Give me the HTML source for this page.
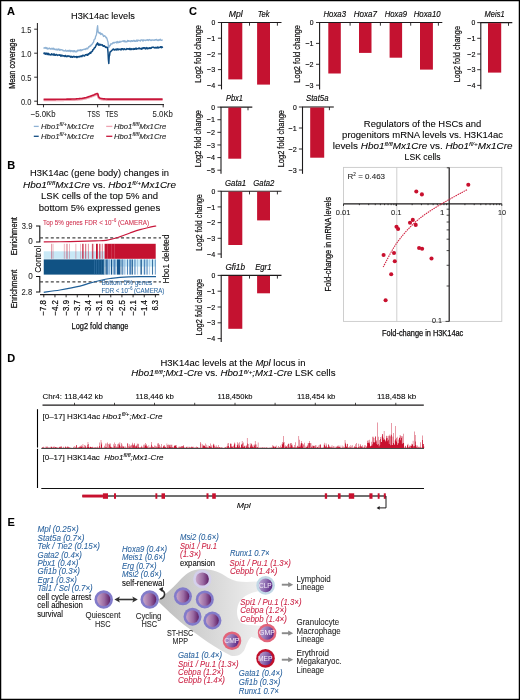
<!DOCTYPE html>
<html><head><meta charset="utf-8"><style>
html,body{margin:0;padding:0;background:#fff;}
body{width:520px;height:700px;overflow:hidden;}
svg{display:block;font-family:"Liberation Sans", sans-serif;will-change:transform;}
</style></head><body>
<svg width="520" height="700" viewBox="0 0 520 700" font-family='"Liberation Sans", sans-serif'>
<defs><linearGradient id="g1" x1="0" y1="0" x2="1" y2="0"><stop offset="0" stop-color="#c8a6c8"/><stop offset="0.55" stop-color="#9a6aa2"/><stop offset="1" stop-color="#5e1e66"/></linearGradient><linearGradient id="g2" x1="0" y1="0" x2="1" y2="0.3"><stop offset="0" stop-color="#c0aad8"/><stop offset="0.5" stop-color="#9476b6"/><stop offset="1" stop-color="#62308a"/></linearGradient><linearGradient id="gg" x1="0" y1="0" x2="1" y2="0"><stop offset="0" stop-color="#bdbdbd"/><stop offset="0.4" stop-color="#d2d2d2"/><stop offset="1" stop-color="#f0f0f0"/></linearGradient></defs>
<rect x="0" y="0" width="520" height="700" fill="#fff"/>
<text x="7.00" y="15.30" font-size="11" font-weight="bold" stroke="#1c1a1b" stroke-width="0.1">A</text>
<text x="71.00" y="19.30" font-size="9.02" textLength="63.80" lengthAdjust="spacingAndGlyphs" stroke="#1c1a1b" stroke-width="0.08">H3K14ac levels</text>
<line x1="37.40" y1="23.00" x2="37.40" y2="104.60" stroke="#1c1a1b" stroke-width="1.0" />
<line x1="36.90" y1="104.60" x2="164.00" y2="104.60" stroke="#1c1a1b" stroke-width="1.0" />
<line x1="34.20" y1="29.20" x2="37.40" y2="29.20" stroke="#1c1a1b" stroke-width="0.9" />
<text x="31.30" y="32.90" font-size="8.36" fill="#262626" text-anchor="end" textLength="10.40" lengthAdjust="spacingAndGlyphs" stroke="#262626" stroke-width="0.08">1.5</text>
<line x1="34.20" y1="53.20" x2="37.40" y2="53.20" stroke="#1c1a1b" stroke-width="0.9" />
<text x="31.30" y="56.90" font-size="8.36" fill="#262626" text-anchor="end" textLength="10.40" lengthAdjust="spacingAndGlyphs" stroke="#262626" stroke-width="0.08">1.0</text>
<line x1="34.20" y1="77.20" x2="37.40" y2="77.20" stroke="#1c1a1b" stroke-width="0.9" />
<text x="31.30" y="80.90" font-size="8.36" fill="#262626" text-anchor="end" textLength="10.40" lengthAdjust="spacingAndGlyphs" stroke="#262626" stroke-width="0.08">0.5</text>
<line x1="34.20" y1="101.20" x2="37.40" y2="101.20" stroke="#1c1a1b" stroke-width="0.9" />
<text x="31.30" y="104.90" font-size="8.36" fill="#262626" text-anchor="end" textLength="10.40" lengthAdjust="spacingAndGlyphs" stroke="#262626" stroke-width="0.08">0.0</text>
<line x1="43.50" y1="104.60" x2="43.50" y2="107.30" stroke="#1c1a1b" stroke-width="0.9" />
<line x1="97.60" y1="104.60" x2="97.60" y2="107.30" stroke="#1c1a1b" stroke-width="0.9" />
<line x1="108.90" y1="104.60" x2="108.90" y2="107.30" stroke="#1c1a1b" stroke-width="0.9" />
<line x1="163.20" y1="104.60" x2="163.20" y2="107.30" stroke="#1c1a1b" stroke-width="0.9" />
<text x="30.70" y="116.60" font-size="8.36" fill="#262626" textLength="24.80" lengthAdjust="spacingAndGlyphs" stroke="#262626" stroke-width="0.08">−5.0Kb</text>
<text x="87.50" y="116.60" font-size="8.36" fill="#262626" textLength="12.50" lengthAdjust="spacingAndGlyphs" stroke="#262626" stroke-width="0.08">TSS</text>
<text x="105.40" y="116.60" font-size="8.36" fill="#262626" textLength="12.60" lengthAdjust="spacingAndGlyphs" stroke="#262626" stroke-width="0.08">TES</text>
<text x="152.60" y="116.60" font-size="8.36" fill="#262626" textLength="20.30" lengthAdjust="spacingAndGlyphs" stroke="#262626" stroke-width="0.08">5.0Kb</text>
<text x="14.80" y="63.70" font-size="8.36" text-anchor="middle" textLength="50.30" lengthAdjust="spacingAndGlyphs" transform="rotate(-90 14.80 63.70)" stroke="#1c1a1b" stroke-width="0.25">Mean coverage</text>
<path d="M43.60,47.53 L44.00,48.00 L44.40,47.80 L44.80,48.17 L45.20,48.24 L45.60,47.49 L46.00,47.46 L46.40,48.66 L46.80,47.89 L47.20,47.89 L47.60,49.00 L48.00,48.30 L48.40,48.86 L48.80,48.39 L49.20,48.66 L49.60,48.02 L50.00,48.74 L50.40,49.10 L50.80,48.66 L51.20,49.01 L51.60,48.95 L52.00,48.14 L52.40,49.15 L52.80,48.96 L53.20,48.59 L53.60,48.26 L54.00,49.48 L54.40,48.98 L54.80,49.37 L55.20,49.65 L55.60,49.47 L56.00,49.81 L56.40,49.13 L56.80,49.75 L57.20,49.30 L57.60,50.04 L58.00,50.01 L58.40,48.97 L58.80,49.07 L59.20,49.24 L59.60,50.34 L60.00,49.65 L60.40,49.96 L60.80,49.56 L61.20,49.90 L61.60,49.78 L62.00,49.78 L62.40,50.16 L62.80,50.21 L63.20,50.71 L63.60,50.45 L64.00,50.85 L64.40,50.80 L64.80,51.04 L65.20,50.64 L65.60,49.98 L66.00,51.01 L66.40,51.21 L66.80,51.18 L67.20,50.76 L67.60,51.01 L68.00,50.34 L68.40,51.25 L68.80,50.92 L69.20,50.55 L69.60,50.28 L70.00,51.42 L70.40,51.65 L70.80,50.42 L71.20,51.45 L71.60,50.94 L72.00,50.61 L72.40,50.85 L72.80,51.55 L73.20,51.73 L73.60,50.61 L74.00,51.44 L74.40,50.68 L74.80,51.66 L75.20,51.15 L75.60,51.87 L76.00,51.92 L76.40,51.17 L76.80,51.78 L77.20,50.73 L77.60,50.32 L78.00,50.97 L78.40,50.08 L78.80,50.23 L79.20,50.44 L79.60,50.64 L80.00,49.92 L80.40,49.65 L80.80,50.69 L81.20,49.80 L81.60,50.59 L82.00,50.40 L82.40,49.56 L82.80,49.56 L83.20,49.53 L83.60,49.59 L84.00,49.41 L84.40,49.25 L84.80,49.22 L85.20,49.56 L85.60,48.84 L86.00,48.62 L86.40,48.92 L86.80,48.13 L87.20,48.11 L87.60,48.89 L88.00,47.93 L88.40,47.65 L88.80,46.58 L89.20,46.82 L89.60,46.73 L90.00,45.63 L90.40,46.14 L90.80,45.85 L91.20,44.62 L91.60,44.90 L92.00,44.15 L92.40,43.93 L92.80,42.95 L93.20,42.75 L93.60,41.91 L94.00,40.03 L94.40,39.20 L94.80,39.19 L95.20,38.59 L95.60,36.46 L96.00,35.63 L96.40,34.69 L96.80,31.89 L97.20,28.24 L97.60,25.74 L98.00,30.82 L98.40,32.60 L98.80,32.89 L99.20,32.94 L99.60,33.44 L100.00,32.34 L100.40,33.70 L100.80,34.53 L101.20,34.05 L101.60,33.57 L102.00,34.03 L102.40,33.99 L102.80,34.68 L103.20,35.63 L103.60,36.44 L104.00,36.04 L104.40,36.03 L104.80,35.73 L105.20,36.55 L105.60,36.55 L106.00,37.70 L106.40,37.39 L106.80,38.29 L107.20,39.38 L107.60,40.87 L108.00,41.93 L108.40,45.95 L108.80,47.41 L109.20,46.87 L109.60,45.43 L110.00,45.76 L110.40,45.27 L110.80,43.82 L111.20,43.59 L111.60,44.13 L112.00,43.70 L112.40,43.73 L112.80,42.88 L113.20,42.44 L113.60,42.59 L114.00,43.21 L114.40,42.40 L114.80,42.42 L115.20,42.44 L115.60,42.37 L116.00,42.27 L116.40,42.91 L116.80,41.76 L117.20,41.47 L117.60,42.70 L118.00,42.53 L118.40,42.60 L118.80,41.75 L119.20,42.39 L119.60,42.28 L120.00,41.21 L120.40,41.92 L120.80,42.02 L121.20,41.76 L121.60,41.53 L122.00,41.18 L122.40,41.23 L122.80,41.05 L123.20,40.80 L123.60,41.51 L124.00,41.06 L124.40,41.77 L124.80,40.68 L125.20,41.85 L125.60,41.54 L126.00,41.83 L126.40,41.77 L126.80,41.75 L127.20,41.28 L127.60,40.46 L128.00,41.46 L128.40,40.64 L128.80,40.79 L129.20,41.28 L129.60,41.06 L130.00,40.88 L130.40,41.60 L130.80,41.13 L131.20,40.73 L131.60,40.59 L132.00,41.43 L132.40,40.87 L132.80,41.28 L133.20,40.66 L133.60,40.43 L134.00,40.89 L134.40,41.27 L134.80,40.35 L135.20,41.20 L135.60,41.37 L136.00,41.19 L136.40,41.20 L136.80,40.04 L137.20,40.89 L137.60,41.20 L138.00,40.05 L138.40,40.34 L138.80,40.32 L139.20,40.67 L139.60,40.51 L140.00,40.56 L140.40,40.97 L140.80,39.86 L141.20,39.92 L141.60,40.00 L142.00,39.97 L142.40,39.88 L142.80,41.12 L143.20,40.94 L143.60,39.84 L144.00,40.40 L144.40,40.12 L144.80,40.10 L145.20,40.13 L145.60,40.53 L146.00,40.42 L146.40,40.09 L146.80,39.83 L147.20,40.00 L147.60,39.69 L148.00,40.28 L148.40,40.48 L148.80,39.99 L149.20,39.55 L149.60,39.67 L150.00,39.92 L150.40,40.24 L150.80,40.48 L151.20,39.90 L151.60,40.48 L152.00,40.23 L152.40,39.95 L152.80,39.86 L153.20,40.02 L153.60,40.30 L154.00,39.90 L154.40,40.27 L154.80,39.93 L155.20,39.62 L155.60,40.02 L156.00,40.23 L156.40,39.35 L156.80,39.84 L157.20,39.83 L157.60,40.46 L158.00,40.53 L158.40,39.73 L158.80,40.45 L159.20,40.29 L159.60,39.55 L160.00,39.82 L160.40,39.33 L160.80,40.29 L161.20,40.07 L161.60,40.37 L162.00,40.23 L162.40,40.05 L162.80,40.13" stroke="#8fb2d4" stroke-width="1.35" fill="none" stroke-linejoin="round"/>
<path d="M43.60,53.69 L44.00,53.08 L44.40,53.80 L44.80,53.03 L45.20,53.26 L45.60,54.19 L46.00,53.20 L46.40,53.31 L46.80,53.36 L47.20,54.50 L47.60,53.55 L48.00,53.38 L48.40,54.56 L48.80,53.60 L49.20,54.65 L49.60,54.45 L50.00,54.72 L50.40,54.92 L50.80,54.44 L51.20,54.79 L51.60,53.76 L52.00,54.82 L52.40,54.50 L52.80,54.83 L53.20,54.02 L53.60,54.96 L54.00,55.27 L54.40,54.09 L54.80,54.50 L55.20,54.88 L55.60,55.30 L56.00,54.52 L56.40,54.48 L56.80,54.63 L57.20,55.19 L57.60,55.42 L58.00,54.97 L58.40,54.97 L58.80,55.06 L59.20,55.04 L59.60,55.18 L60.00,54.76 L60.40,55.39 L60.80,56.10 L61.20,55.36 L61.60,55.87 L62.00,55.10 L62.40,55.88 L62.80,56.02 L63.20,55.95 L63.60,55.78 L64.00,55.78 L64.40,56.05 L64.80,56.45 L65.20,55.45 L65.60,55.42 L66.00,56.38 L66.40,56.66 L66.80,56.14 L67.20,56.09 L67.60,56.52 L68.00,55.82 L68.40,55.99 L68.80,55.95 L69.20,56.54 L69.60,56.21 L70.00,56.15 L70.40,56.84 L70.80,57.26 L71.20,56.39 L71.60,57.01 L72.00,56.66 L72.40,57.32 L72.80,57.00 L73.20,56.60 L73.60,56.59 L74.00,56.37 L74.40,57.06 L74.80,56.97 L75.20,56.73 L75.60,56.95 L76.00,56.82 L76.40,57.37 L76.80,56.41 L77.20,57.52 L77.60,56.73 L78.00,56.82 L78.40,56.56 L78.80,57.00 L79.20,56.90 L79.60,56.46 L80.00,56.27 L80.40,56.52 L80.80,56.63 L81.20,55.90 L81.60,56.29 L82.00,56.52 L82.40,55.74 L82.80,55.32 L83.20,55.25 L83.60,55.84 L84.00,55.69 L84.40,56.00 L84.80,55.77 L85.20,54.83 L85.60,54.67 L86.00,54.68 L86.40,54.50 L86.80,55.14 L87.20,55.27 L87.60,55.20 L88.00,54.06 L88.40,54.67 L88.80,53.66 L89.20,53.57 L89.60,53.76 L90.00,52.62 L90.40,52.39 L90.80,53.19 L91.20,52.08 L91.60,51.71 L92.00,51.56 L92.40,51.24 L92.80,49.84 L93.20,49.76 L93.60,49.30 L94.00,48.76 L94.40,47.77 L94.80,47.68 L95.20,47.59 L95.60,46.17 L96.00,45.69 L96.40,44.40 L96.80,43.93 L97.20,43.78 L97.60,42.89 L98.00,44.45 L98.40,44.95 L98.80,43.96 L99.20,45.16 L99.60,44.40 L100.00,44.98 L100.40,45.00 L100.80,44.39 L101.20,44.97 L101.60,44.98 L102.00,45.23 L102.40,44.73 L102.80,45.68 L103.20,46.23 L103.60,46.08 L104.00,46.15 L104.40,45.78 L104.80,46.53 L105.20,46.55 L105.60,47.29 L106.00,47.45 L106.40,47.39 L106.80,46.95 L107.20,47.70 L107.60,47.78 L108.00,52.08 L108.40,59.47 L108.80,63.46 L109.20,56.47 L109.60,55.35 L110.00,52.00 L110.40,51.73 L110.80,51.74 L111.20,51.04 L111.60,50.52 L112.00,50.41 L112.40,49.90 L112.80,49.46 L113.20,49.14 L113.60,48.98 L114.00,49.87 L114.40,49.92 L114.80,49.61 L115.20,49.87 L115.60,49.33 L116.00,49.19 L116.40,49.34 L116.80,50.01 L117.20,48.84 L117.60,49.48 L118.00,49.10 L118.40,49.82 L118.80,49.23 L119.20,49.19 L119.60,49.28 L120.00,49.46 L120.40,49.76 L120.80,49.16 L121.20,49.84 L121.60,48.79 L122.00,49.00 L122.40,48.74 L122.80,48.75 L123.20,49.66 L123.60,49.57 L124.00,48.80 L124.40,48.79 L124.80,49.09 L125.20,49.53 L125.60,49.62 L126.00,49.51 L126.40,49.27 L126.80,48.63 L127.20,48.97 L127.60,48.67 L128.00,49.12 L128.40,49.16 L128.80,48.63 L129.20,48.68 L129.60,49.41 L130.00,48.34 L130.40,49.41 L130.80,49.52 L131.20,49.58 L131.60,48.77 L132.00,48.99 L132.40,49.02 L132.80,49.08 L133.20,49.54 L133.60,49.12 L134.00,48.56 L134.40,49.33 L134.80,48.79 L135.20,48.93 L135.60,49.09 L136.00,48.06 L136.40,49.12 L136.80,48.95 L137.20,48.70 L137.60,48.73 L138.00,48.62 L138.40,48.23 L138.80,48.69 L139.20,47.98 L139.60,48.62 L140.00,48.80 L140.40,48.49 L140.80,48.64 L141.20,49.16 L141.60,49.04 L142.00,47.95 L142.40,48.84 L142.80,48.58 L143.20,47.75 L143.60,48.15 L144.00,47.95 L144.40,47.70 L144.80,48.32 L145.20,48.84 L145.60,47.96 L146.00,48.70 L146.40,48.42 L146.80,47.61 L147.20,48.60 L147.60,48.21 L148.00,48.64 L148.40,48.31 L148.80,48.32 L149.20,47.74 L149.60,48.36 L150.00,48.50 L150.40,48.39 L150.80,47.77 L151.20,48.20 L151.60,47.81 L152.00,47.26 L152.40,47.15 L152.80,47.18 L153.20,47.33 L153.60,47.26 L154.00,47.71 L154.40,47.98 L154.80,47.73 L155.20,47.55 L155.60,47.85 L156.00,47.35 L156.40,47.55 L156.80,47.95 L157.20,47.43 L157.60,47.10 L158.00,48.09 L158.40,47.82 L158.80,47.31 L159.20,47.29 L159.60,47.50 L160.00,47.57 L160.40,47.03 L160.80,46.71 L161.20,46.98 L161.60,47.76 L162.00,46.85 L162.40,47.27 L162.80,46.88" stroke="#0f4b82" stroke-width="1.5" fill="none" stroke-linejoin="round"/>
<path d="M43.60,100.30 L44.10,100.30 L44.60,100.29 L45.10,100.29 L45.60,100.29 L46.10,100.28 L46.60,100.28 L47.10,100.28 L47.60,100.28 L48.10,100.27 L48.60,100.27 L49.10,100.27 L49.60,100.26 L50.10,100.26 L50.60,100.26 L51.10,100.25 L51.60,100.25 L52.10,100.25 L52.60,100.25 L53.10,100.24 L53.60,100.24 L54.10,100.24 L54.60,100.23 L55.10,100.23 L55.60,100.23 L56.10,100.22 L56.60,100.22 L57.10,100.22 L57.60,100.21 L58.10,100.21 L58.60,100.21 L59.10,100.21 L59.60,100.20 L60.10,100.20 L60.60,100.19 L61.10,100.18 L61.60,100.17 L62.10,100.16 L62.60,100.15 L63.10,100.14 L63.60,100.13 L64.10,100.12 L64.60,100.11 L65.10,100.10 L65.60,100.09 L66.10,100.08 L66.60,100.07 L67.10,100.06 L67.60,100.05 L68.10,100.04 L68.60,100.03 L69.10,100.02 L69.60,100.01 L70.10,100.00 L70.60,99.99 L71.10,99.98 L71.60,99.97 L72.10,99.96 L72.60,99.95 L73.10,99.94 L73.60,99.93 L74.10,99.92 L74.60,99.91 L75.10,99.89 L75.60,99.85 L76.10,99.81 L76.60,99.76 L77.10,99.72 L77.60,99.68 L78.10,99.63 L78.60,99.59 L79.10,99.55 L79.60,99.51 L80.10,99.46 L80.60,99.42 L81.10,99.38 L81.60,99.33 L82.10,99.28 L82.60,99.18 L83.10,99.08 L83.60,98.98 L84.10,98.88 L84.60,98.78 L85.10,98.68 L85.60,98.58 L86.10,98.47 L86.60,98.31 L87.10,98.14 L87.60,97.98 L88.10,97.82 L88.60,97.66 L89.10,97.49 L89.60,97.33 L90.10,97.16 L90.60,96.98 L91.10,96.79 L91.60,96.60 L92.10,96.41 L92.60,96.23 L93.10,96.04 L93.60,95.85 L94.10,95.66 L94.60,95.44 L95.10,95.22 L95.60,95.00 L96.10,94.78 L96.60,94.56 L97.10,94.34 L97.60,94.43 L98.10,95.77 L98.60,97.90 L99.10,98.33 L99.60,98.76 L100.10,99.12 L100.60,99.22 L101.10,99.32 L101.60,99.42 L102.10,99.52 L102.60,99.62 L103.10,99.71 L103.60,99.74 L104.10,99.77 L104.60,99.80 L105.10,99.83 L105.60,99.86 L106.10,99.89 L106.60,99.92 L107.10,99.95 L107.60,99.98 L108.10,100.00 L108.60,100.00 L109.10,100.00 L109.60,100.00 L110.10,100.00 L110.60,100.00 L111.10,100.00 L111.60,100.00 L112.10,100.00 L112.60,100.00 L113.10,100.00 L113.60,100.00 L114.10,100.00 L114.60,100.00 L115.10,100.00 L115.60,100.00 L116.10,100.00 L116.60,100.00 L117.10,100.00 L117.60,100.00 L118.10,100.00 L118.60,100.00 L119.10,100.00 L119.60,100.00 L120.10,100.00 L120.60,100.00 L121.10,100.00 L121.60,100.00 L122.10,100.00 L122.60,100.00 L123.10,100.00 L123.60,100.00 L124.10,100.00 L124.60,100.00 L125.10,100.00 L125.60,100.00 L126.10,100.00 L126.60,100.00 L127.10,100.00 L127.60,100.00 L128.10,100.00 L128.60,100.00 L129.10,100.00 L129.60,100.00 L130.10,100.00 L130.60,100.00 L131.10,100.00 L131.60,100.00 L132.10,100.00 L132.60,100.00 L133.10,100.00 L133.60,100.00 L134.10,100.00 L134.60,100.00 L135.10,100.00 L135.60,100.00 L136.10,100.00 L136.60,100.00 L137.10,100.00 L137.60,100.00 L138.10,100.00 L138.60,100.00 L139.10,100.00 L139.60,100.00 L140.10,100.00 L140.60,100.00 L141.10,100.00 L141.60,100.00 L142.10,100.00 L142.60,100.00 L143.10,100.00 L143.60,100.00 L144.10,100.00 L144.60,100.00 L145.10,100.00 L145.60,100.00 L146.10,100.00 L146.60,100.00 L147.10,100.00 L147.60,100.00 L148.10,100.00 L148.60,100.00 L149.10,100.00 L149.60,100.00 L150.10,100.00 L150.60,100.00 L151.10,100.00 L151.60,100.00 L152.10,100.00 L152.60,100.00 L153.10,100.00 L153.60,100.00 L154.10,100.00 L154.60,100.00 L155.10,100.00 L155.60,100.00 L156.10,100.00 L156.60,100.00 L157.10,100.00 L157.60,100.00 L158.10,100.00 L158.60,100.00 L159.10,100.00 L159.60,100.00 L160.10,100.00 L160.60,100.00 L161.10,100.00 L161.60,100.00 L162.10,100.00 L162.60,100.00" stroke="#eea4b2" stroke-width="2.0" fill="none" stroke-linejoin="round"/>
<path d="M43.60,99.40 L44.10,99.40 L44.60,99.39 L45.10,99.39 L45.60,99.39 L46.10,99.38 L46.60,99.38 L47.10,99.38 L47.60,99.38 L48.10,99.37 L48.60,99.37 L49.10,99.37 L49.60,99.36 L50.10,99.36 L50.60,99.36 L51.10,99.35 L51.60,99.35 L52.10,99.35 L52.60,99.35 L53.10,99.34 L53.60,99.34 L54.10,99.34 L54.60,99.33 L55.10,99.33 L55.60,99.33 L56.10,99.32 L56.60,99.32 L57.10,99.32 L57.60,99.31 L58.10,99.31 L58.60,99.31 L59.10,99.31 L59.60,99.30 L60.10,99.30 L60.60,99.29 L61.10,99.28 L61.60,99.27 L62.10,99.26 L62.60,99.25 L63.10,99.24 L63.60,99.23 L64.10,99.22 L64.60,99.21 L65.10,99.20 L65.60,99.19 L66.10,99.18 L66.60,99.17 L67.10,99.16 L67.60,99.15 L68.10,99.14 L68.60,99.13 L69.10,99.12 L69.60,99.11 L70.10,99.10 L70.60,99.09 L71.10,99.08 L71.60,99.07 L72.10,99.06 L72.60,99.05 L73.10,99.04 L73.60,99.03 L74.10,99.02 L74.60,99.01 L75.10,98.99 L75.60,98.95 L76.10,98.91 L76.60,98.86 L77.10,98.82 L77.60,98.78 L78.10,98.73 L78.60,98.69 L79.10,98.65 L79.60,98.61 L80.10,98.56 L80.60,98.52 L81.10,98.48 L81.60,98.43 L82.10,98.38 L82.60,98.28 L83.10,98.18 L83.60,98.08 L84.10,97.98 L84.60,97.88 L85.10,97.78 L85.60,97.68 L86.10,97.57 L86.60,97.41 L87.10,97.24 L87.60,97.08 L88.10,96.92 L88.60,96.75 L89.10,96.59 L89.60,96.43 L90.10,96.26 L90.60,96.08 L91.10,95.89 L91.60,95.70 L92.10,95.51 L92.60,95.33 L93.10,95.14 L93.60,94.95 L94.10,94.76 L94.60,94.54 L95.10,94.32 L95.60,94.10 L96.10,93.88 L96.60,93.66 L97.10,93.44 L97.60,93.53 L98.10,94.87 L98.60,97.00 L99.10,97.43 L99.60,97.86 L100.10,98.22 L100.60,98.32 L101.10,98.42 L101.60,98.52 L102.10,98.62 L102.60,98.72 L103.10,98.81 L103.60,98.84 L104.10,98.87 L104.60,98.90 L105.10,98.93 L105.60,98.96 L106.10,98.99 L106.60,99.02 L107.10,99.05 L107.60,99.08 L108.10,99.10 L108.60,99.10 L109.10,99.10 L109.60,99.10 L110.10,99.10 L110.60,99.10 L111.10,99.10 L111.60,99.10 L112.10,99.10 L112.60,99.10 L113.10,99.10 L113.60,99.10 L114.10,99.10 L114.60,99.10 L115.10,99.10 L115.60,99.10 L116.10,99.10 L116.60,99.10 L117.10,99.10 L117.60,99.10 L118.10,99.10 L118.60,99.10 L119.10,99.10 L119.60,99.10 L120.10,99.10 L120.60,99.10 L121.10,99.10 L121.60,99.10 L122.10,99.10 L122.60,99.10 L123.10,99.10 L123.60,99.10 L124.10,99.10 L124.60,99.10 L125.10,99.10 L125.60,99.10 L126.10,99.10 L126.60,99.10 L127.10,99.10 L127.60,99.10 L128.10,99.10 L128.60,99.10 L129.10,99.10 L129.60,99.10 L130.10,99.10 L130.60,99.10 L131.10,99.10 L131.60,99.10 L132.10,99.10 L132.60,99.10 L133.10,99.10 L133.60,99.10 L134.10,99.10 L134.60,99.10 L135.10,99.10 L135.60,99.10 L136.10,99.10 L136.60,99.10 L137.10,99.10 L137.60,99.10 L138.10,99.10 L138.60,99.10 L139.10,99.10 L139.60,99.10 L140.10,99.10 L140.60,99.10 L141.10,99.10 L141.60,99.10 L142.10,99.10 L142.60,99.10 L143.10,99.10 L143.60,99.10 L144.10,99.10 L144.60,99.10 L145.10,99.10 L145.60,99.10 L146.10,99.10 L146.60,99.10 L147.10,99.10 L147.60,99.10 L148.10,99.10 L148.60,99.10 L149.10,99.10 L149.60,99.10 L150.10,99.10 L150.60,99.10 L151.10,99.10 L151.60,99.10 L152.10,99.10 L152.60,99.10 L153.10,99.10 L153.60,99.10 L154.10,99.10 L154.60,99.10 L155.10,99.10 L155.60,99.10 L156.10,99.10 L156.60,99.10 L157.10,99.10 L157.60,99.10 L158.10,99.10 L158.60,99.10 L159.10,99.10 L159.60,99.10 L160.10,99.10 L160.60,99.10 L161.10,99.10 L161.60,99.10 L162.10,99.10 L162.60,99.10" stroke="#c8163a" stroke-width="1.6" fill="none" stroke-linejoin="round"/>
<line x1="33.80" y1="126.40" x2="38.70" y2="126.40" stroke="#8fb2d4" stroke-width="1.3" />
<line x1="33.80" y1="136.30" x2="38.70" y2="136.30" stroke="#0f4b82" stroke-width="1.3" />
<line x1="106.20" y1="126.40" x2="112.30" y2="126.40" stroke="#eea4b2" stroke-width="1.3" />
<line x1="106.20" y1="136.30" x2="112.30" y2="136.30" stroke="#c8163a" stroke-width="1.3" />
<text x="41.00" y="128.80" font-size="7.92" fill="#2a2a2a" font-style="italic" textLength="53.00" lengthAdjust="spacingAndGlyphs" stroke="#2a2a2a" stroke-width="0.12">Hbo1<tspan dy="-2.5" font-size="5.6">fl/+</tspan><tspan dy="2.5">Mx1Cre</tspan></text>
<text x="41.00" y="138.60" font-size="7.92" fill="#2a2a2a" font-style="italic" textLength="53.00" lengthAdjust="spacingAndGlyphs" stroke="#2a2a2a" stroke-width="0.12">Hbo1<tspan dy="-2.5" font-size="5.6">fl/+</tspan><tspan dy="2.5">Mx1Cre</tspan></text>
<text x="114.00" y="128.80" font-size="7.92" fill="#2a2a2a" font-style="italic" textLength="52.30" lengthAdjust="spacingAndGlyphs" stroke="#2a2a2a" stroke-width="0.12">Hbo1<tspan dy="-2.5" font-size="5.6">fl/fl</tspan><tspan dy="2.5">Mx1Cre</tspan></text>
<text x="114.00" y="138.60" font-size="7.92" fill="#2a2a2a" font-style="italic" textLength="52.30" lengthAdjust="spacingAndGlyphs" stroke="#2a2a2a" stroke-width="0.12">Hbo1<tspan dy="-2.5" font-size="5.6">fl/fl</tspan><tspan dy="2.5">Mx1Cre</tspan></text>
<text x="7.20" y="169.30" font-size="11" font-weight="bold" stroke="#1c1a1b" stroke-width="0.1">B</text>
<text x="99.50" y="175.50" font-size="9.13" text-anchor="middle" textLength="139.00" lengthAdjust="spacingAndGlyphs" stroke="#1c1a1b" stroke-width="0.08">H3K14ac (gene body) changes in</text>
<text x="99.50" y="187.50" font-size="9.13" text-anchor="middle" textLength="153.00" lengthAdjust="spacingAndGlyphs" stroke="#1c1a1b" stroke-width="0.08"><tspan font-style="italic">Hbo1<tspan dy="-2.7" font-size="6.0">fl/fl</tspan><tspan dy="2.7">Mx1Cre</tspan></tspan> vs. <tspan font-style="italic">Hbo1<tspan dy="-2.7" font-size="6.0">fl/+</tspan><tspan dy="2.7">Mx1Cre</tspan></tspan></text>
<text x="99.50" y="198.80" font-size="9.13" text-anchor="middle" textLength="117.00" lengthAdjust="spacingAndGlyphs" stroke="#1c1a1b" stroke-width="0.08">LSK cells of the top 5% and</text>
<text x="99.50" y="210.50" font-size="9.13" text-anchor="middle" textLength="121.50" lengthAdjust="spacingAndGlyphs" stroke="#1c1a1b" stroke-width="0.08">bottom 5% expressed genes</text>
<text x="17.40" y="236.20" font-size="9.02" text-anchor="middle" textLength="38.30" lengthAdjust="spacingAndGlyphs" transform="rotate(-90 17.40 236.20)" stroke="#1c1a1b" stroke-width="0.25">Enrichment</text>
<text x="17.40" y="289.00" font-size="9.02" text-anchor="middle" textLength="38.60" lengthAdjust="spacingAndGlyphs" transform="rotate(-90 17.40 289.00)" stroke="#1c1a1b" stroke-width="0.25">Enrichment</text>
<text x="40.60" y="259.20" font-size="8.36" text-anchor="middle" textLength="26.90" lengthAdjust="spacingAndGlyphs" transform="rotate(-90 40.60 259.20)" stroke="#1c1a1b" stroke-width="0.08">Control</text>
<path d="M36,226 H39.8 V242 H36" stroke="#111" stroke-width="1.1" fill="none" />
<path d="M36,276.5 H39.8 V292 H36" stroke="#111" stroke-width="1.1" fill="none" />
<text x="32.40" y="228.70" font-size="8.14" fill="#262626" text-anchor="end" textLength="10.60" lengthAdjust="spacingAndGlyphs" stroke="#262626" stroke-width="0.08">3.9</text>
<text x="32.70" y="244.20" font-size="8.14" fill="#262626" text-anchor="end" stroke="#262626" stroke-width="0.08">0</text>
<text x="32.70" y="279.00" font-size="8.14" fill="#262626" text-anchor="end" stroke="#262626" stroke-width="0.08">0</text>
<text x="32.20" y="294.60" font-size="8.14" fill="#262626" text-anchor="end" textLength="10.60" lengthAdjust="spacingAndGlyphs" stroke="#262626" stroke-width="0.08">2.8</text>
<line x1="40.00" y1="237.90" x2="161.00" y2="237.90" stroke="#444" stroke-width="1.2" stroke-dasharray="3 2.4"/>
<line x1="40.00" y1="281.90" x2="161.00" y2="281.90" stroke="#444" stroke-width="1.2" stroke-dasharray="3 2.4"/>
<rect x="43.75" y="251.30" width="61.05" height="7.50" fill="#c8e8f6" />
<rect x="43.75" y="259.40" width="60.85" height="15.20" fill="#105284" />
<rect x="104.60" y="259.40" width="51.10" height="7.40" fill="#c6e6f6" />
<rect x="104.60" y="266.80" width="51.10" height="7.80" fill="#f4f9fc" />
<rect x="94.30" y="259.40" width="0.60" height="15.20" fill="#5a8fc2" opacity="0.55"/>
<rect x="96.20" y="259.40" width="0.60" height="15.20" fill="#5a8fc2" opacity="0.55"/>
<rect x="98.60" y="259.40" width="0.60" height="15.20" fill="#5a8fc2" opacity="0.55"/>
<rect x="100.90" y="259.40" width="0.60" height="15.20" fill="#5a8fc2" opacity="0.55"/>
<rect x="103.00" y="259.40" width="0.60" height="15.20" fill="#5a8fc2" opacity="0.55"/>
<rect x="104.60" y="259.40" width="0.30" height="15.20" fill="#8cb6da" />
<rect x="105.50" y="259.40" width="1.30" height="15.20" fill="#15548c" />
<rect x="107.00" y="259.40" width="1.00" height="15.20" fill="#4f86bb" />
<rect x="108.20" y="259.40" width="2.10" height="15.20" fill="#8cb6da" />
<rect x="111.00" y="259.40" width="1.20" height="15.20" fill="#15548c" />
<rect x="113.40" y="259.40" width="2.20" height="15.20" fill="#4f86bb" />
<rect x="116.80" y="259.40" width="3.60" height="15.20" fill="#15548c" />
<rect x="121.60" y="259.40" width="0.90" height="15.20" fill="#15548c" />
<rect x="122.50" y="259.40" width="0.80" height="15.20" fill="#4f86bb" />
<rect x="124.30" y="259.40" width="1.00" height="15.20" fill="#8cb6da" />
<rect x="127.00" y="259.40" width="1.00" height="15.20" fill="#4f86bb" />
<rect x="129.30" y="259.40" width="1.70" height="15.20" fill="#4f86bb" />
<rect x="131.60" y="259.40" width="1.20" height="15.20" fill="#15548c" />
<rect x="134.40" y="259.40" width="1.10" height="15.20" fill="#4f86bb" />
<rect x="137.20" y="259.40" width="0.70" height="15.20" fill="#8cb6da" />
<rect x="140.50" y="259.40" width="1.30" height="15.20" fill="#15548c" />
<rect x="143.80" y="259.40" width="1.40" height="15.20" fill="#4f86bb" />
<rect x="146.50" y="259.40" width="1.10" height="15.20" fill="#4f86bb" />
<rect x="149.40" y="259.40" width="0.60" height="15.20" fill="#8cb6da" />
<rect x="152.20" y="259.40" width="0.80" height="15.20" fill="#15548c" />
<rect x="154.90" y="259.40" width="0.80" height="15.20" fill="#4f86bb" />
<rect x="51.20" y="243.80" width="0.80" height="15.00" fill="#c41230" opacity="0.5"/>
<rect x="52.70" y="243.80" width="0.60" height="15.00" fill="#c41230" opacity="0.5"/>
<rect x="63.90" y="243.80" width="0.60" height="15.00" fill="#c41230" opacity="0.5"/>
<rect x="65.95" y="243.80" width="0.70" height="15.00" fill="#c41230" opacity="0.5"/>
<rect x="67.20" y="243.80" width="0.60" height="15.00" fill="#c41230" opacity="0.5"/>
<rect x="69.00" y="243.80" width="0.60" height="15.00" fill="#c41230" opacity="0.5"/>
<rect x="75.60" y="243.80" width="0.60" height="15.00" fill="#c41230" opacity="0.5"/>
<rect x="80.10" y="243.80" width="0.60" height="15.00" fill="#c41230" opacity="0.45"/>
<rect x="82.30" y="243.80" width="1.20" height="15.00" fill="#c41230" opacity="1"/>
<rect x="85.20" y="243.80" width="1.00" height="15.00" fill="#c41230" opacity="0.7"/>
<rect x="87.90" y="243.80" width="1.00" height="15.00" fill="#c41230" opacity="0.45"/>
<rect x="91.90" y="243.80" width="1.00" height="15.00" fill="#c41230" opacity="0.8"/>
<rect x="93.55" y="243.80" width="0.50" height="15.00" fill="#c41230" opacity="0.6"/>
<rect x="96.00" y="243.80" width="1.80" height="15.00" fill="#c41230" opacity="1"/>
<rect x="99.20" y="243.80" width="1.20" height="15.00" fill="#c41230" opacity="0.85"/>
<rect x="101.85" y="243.80" width="0.70" height="15.00" fill="#c41230" opacity="0.8"/>
<rect x="104.60" y="243.80" width="51.10" height="15.00" fill="#c41230" />
<rect x="107.10" y="243.80" width="0.45" height="15.00" fill="#ffffff" opacity="0.35"/>
<rect x="111.60" y="243.80" width="0.45" height="15.00" fill="#ffffff" opacity="0.35"/>
<rect x="114.40" y="243.80" width="0.45" height="15.00" fill="#ffffff" opacity="0.35"/>
<path d="M43.75,241.90 C48.12,241.85 61.46,241.77 70.00,241.60 C78.54,241.43 89.00,241.12 95.00,240.90 C101.00,240.68 102.33,240.82 106.00,240.30 C109.67,239.78 113.00,239.02 117.00,237.80 C121.00,236.58 126.17,234.37 130.00,233.00 C133.83,231.63 136.67,230.57 140.00,229.60 C143.33,228.63 147.30,227.80 150.00,227.20 C152.70,226.60 155.17,226.20 156.20,226.00" stroke="#c8163a" stroke-width="1.2" fill="none" />
<path d="M43.75,292.30 C46.46,291.92 53.96,291.02 60.00,290.00 C66.04,288.98 75.33,287.27 80.00,286.20 C84.67,285.13 84.67,284.55 88.00,283.60 C91.33,282.65 96.33,281.35 100.00,280.50 C103.67,279.65 106.67,279.03 110.00,278.50 C113.33,277.97 115.00,277.62 120.00,277.30 C125.00,276.98 134.00,276.70 140.00,276.60 C146.00,276.50 153.33,276.68 156.00,276.70" stroke="#1f5f98" stroke-width="1.2" fill="none" />
<text x="43.00" y="225.00" font-size="7.59" fill="#d0304e" textLength="106.00" lengthAdjust="spacingAndGlyphs" stroke="#d0304e" stroke-width="0.08">Top 5% genes FDR &lt; 10<tspan dy="-2.6" font-size="5.0">−6</tspan><tspan dy="2.6"> (CAMERA)</tspan></text>
<text x="101.50" y="284.60" font-size="7.59" fill="#2f6aa3" textLength="50.80" lengthAdjust="spacingAndGlyphs" stroke="#2f6aa3" stroke-width="0.08">Bottom 5% genes</text>
<text x="101.50" y="292.80" font-size="7.59" fill="#2f6aa3" textLength="62.80" lengthAdjust="spacingAndGlyphs" stroke="#2f6aa3" stroke-width="0.08">FDR &lt; 10<tspan dy="-2.6" font-size="5.0">−6</tspan><tspan dy="2.6"> (CAMERA)</tspan></text>
<text x="168.70" y="259.00" font-size="8.69" text-anchor="middle" textLength="49.00" lengthAdjust="spacingAndGlyphs" transform="rotate(-90 168.70 259.00)" stroke="#1c1a1b" stroke-width="0.08">Hbo1 deleted</text>
<line x1="40.00" y1="294.60" x2="159.30" y2="294.60" stroke="#1c1a1b" stroke-width="1.1" />
<line x1="43.80" y1="294.60" x2="43.80" y2="297.30" stroke="#1c1a1b" stroke-width="0.9" />
<text x="46.40" y="300.00" font-size="8.14" text-anchor="end" textLength="15.50" lengthAdjust="spacingAndGlyphs" transform="rotate(-90 46.40 300.00)" stroke="#1c1a1b" stroke-width="0.22">−7.8</text>
<line x1="54.96" y1="294.60" x2="54.96" y2="297.30" stroke="#1c1a1b" stroke-width="0.9" />
<text x="57.56" y="300.00" font-size="8.14" text-anchor="end" textLength="15.50" lengthAdjust="spacingAndGlyphs" transform="rotate(-90 57.56 300.00)" stroke="#1c1a1b" stroke-width="0.22">−4.2</text>
<line x1="66.12" y1="294.60" x2="66.12" y2="297.30" stroke="#1c1a1b" stroke-width="0.9" />
<text x="68.72" y="300.00" font-size="8.14" text-anchor="end" textLength="15.50" lengthAdjust="spacingAndGlyphs" transform="rotate(-90 68.72 300.00)" stroke="#1c1a1b" stroke-width="0.22">−3.9</text>
<line x1="77.28" y1="294.60" x2="77.28" y2="297.30" stroke="#1c1a1b" stroke-width="0.9" />
<text x="79.88" y="300.00" font-size="8.14" text-anchor="end" textLength="15.50" lengthAdjust="spacingAndGlyphs" transform="rotate(-90 79.88 300.00)" stroke="#1c1a1b" stroke-width="0.22">−3.7</text>
<line x1="88.44" y1="294.60" x2="88.44" y2="297.30" stroke="#1c1a1b" stroke-width="0.9" />
<text x="91.04" y="300.00" font-size="8.14" text-anchor="end" textLength="15.50" lengthAdjust="spacingAndGlyphs" transform="rotate(-90 91.04 300.00)" stroke="#1c1a1b" stroke-width="0.22">−3.4</text>
<line x1="99.60" y1="294.60" x2="99.60" y2="297.30" stroke="#1c1a1b" stroke-width="0.9" />
<text x="102.20" y="300.00" font-size="8.14" text-anchor="end" textLength="15.50" lengthAdjust="spacingAndGlyphs" transform="rotate(-90 102.20 300.00)" stroke="#1c1a1b" stroke-width="0.22">−3.1</text>
<line x1="110.76" y1="294.60" x2="110.76" y2="297.30" stroke="#1c1a1b" stroke-width="0.9" />
<text x="113.36" y="300.00" font-size="8.14" text-anchor="end" textLength="15.50" lengthAdjust="spacingAndGlyphs" transform="rotate(-90 113.36 300.00)" stroke="#1c1a1b" stroke-width="0.22">−2.8</text>
<line x1="121.92" y1="294.60" x2="121.92" y2="297.30" stroke="#1c1a1b" stroke-width="0.9" />
<text x="124.52" y="300.00" font-size="8.14" text-anchor="end" textLength="15.50" lengthAdjust="spacingAndGlyphs" transform="rotate(-90 124.52 300.00)" stroke="#1c1a1b" stroke-width="0.22">−2.5</text>
<line x1="133.08" y1="294.60" x2="133.08" y2="297.30" stroke="#1c1a1b" stroke-width="0.9" />
<text x="135.68" y="300.00" font-size="8.14" text-anchor="end" textLength="15.50" lengthAdjust="spacingAndGlyphs" transform="rotate(-90 135.68 300.00)" stroke="#1c1a1b" stroke-width="0.22">−2.1</text>
<line x1="144.24" y1="294.60" x2="144.24" y2="297.30" stroke="#1c1a1b" stroke-width="0.9" />
<text x="146.84" y="300.00" font-size="8.14" text-anchor="end" textLength="15.50" lengthAdjust="spacingAndGlyphs" transform="rotate(-90 146.84 300.00)" stroke="#1c1a1b" stroke-width="0.22">−1.4</text>
<line x1="155.40" y1="294.60" x2="155.40" y2="297.30" stroke="#1c1a1b" stroke-width="0.9" />
<text x="158.00" y="300.00" font-size="8.14" text-anchor="end" textLength="10.50" lengthAdjust="spacingAndGlyphs" transform="rotate(-90 158.00 300.00)" stroke="#1c1a1b" stroke-width="0.22">6.3</text>
<text x="100.00" y="329.00" font-size="9.46" text-anchor="middle" textLength="57.00" lengthAdjust="spacingAndGlyphs" stroke="#1c1a1b" stroke-width="0.25">Log2 fold change</text>
<text x="189.00" y="15.40" font-size="11" font-weight="bold" stroke="#1c1a1b" stroke-width="0.1">C</text>
<line x1="221.50" y1="22.50" x2="221.50" y2="89.40" stroke="#1c1a1b" stroke-width="1.1" />
<line x1="221.00" y1="22.50" x2="281.50" y2="22.50" stroke="#1c1a1b" stroke-width="1.1" />
<line x1="249.50" y1="22.50" x2="249.50" y2="25.70" stroke="#1c1a1b" stroke-width="0.9" />
<line x1="277.40" y1="22.50" x2="277.40" y2="25.70" stroke="#1c1a1b" stroke-width="0.9" />
<line x1="217.90" y1="22.50" x2="221.50" y2="22.50" stroke="#1c1a1b" stroke-width="0.9" />
<text x="215.20" y="25.10" font-size="7.92" text-anchor="end" textLength="3.80" lengthAdjust="spacingAndGlyphs" stroke="#1c1a1b" stroke-width="0.15">0</text>
<line x1="217.90" y1="38.20" x2="221.50" y2="38.20" stroke="#1c1a1b" stroke-width="0.9" />
<text x="215.20" y="40.80" font-size="7.92" text-anchor="end" textLength="8.20" lengthAdjust="spacingAndGlyphs" stroke="#1c1a1b" stroke-width="0.15">−1</text>
<line x1="217.90" y1="53.90" x2="221.50" y2="53.90" stroke="#1c1a1b" stroke-width="0.9" />
<text x="215.20" y="56.50" font-size="7.92" text-anchor="end" textLength="8.20" lengthAdjust="spacingAndGlyphs" stroke="#1c1a1b" stroke-width="0.15">−2</text>
<line x1="217.90" y1="69.60" x2="221.50" y2="69.60" stroke="#1c1a1b" stroke-width="0.9" />
<text x="215.20" y="72.20" font-size="7.92" text-anchor="end" textLength="8.20" lengthAdjust="spacingAndGlyphs" stroke="#1c1a1b" stroke-width="0.15">−3</text>
<line x1="217.90" y1="85.30" x2="221.50" y2="85.30" stroke="#1c1a1b" stroke-width="0.9" />
<text x="215.20" y="87.90" font-size="7.92" text-anchor="end" textLength="8.20" lengthAdjust="spacingAndGlyphs" stroke="#1c1a1b" stroke-width="0.15">−4</text>
<rect x="228.30" y="23.00" width="14.00" height="56.40" fill="#c41230" />
<rect x="257.10" y="23.00" width="12.90" height="61.60" fill="#c41230" />
<text x="228.80" y="17.00" font-size="8.14" font-style="italic" textLength="13.90" lengthAdjust="spacingAndGlyphs" stroke="#1c1a1b" stroke-width="0.14">Mpl</text>
<text x="257.70" y="17.00" font-size="8.14" font-style="italic" textLength="11.90" lengthAdjust="spacingAndGlyphs" stroke="#1c1a1b" stroke-width="0.14">Tek</text>
<text x="201.50" y="53.85" font-size="8.8" text-anchor="middle" textLength="57.70" lengthAdjust="spacingAndGlyphs" transform="rotate(-90 201.50 53.85)" stroke="#1c1a1b" stroke-width="0.2">Log2 fold change</text>
<line x1="319.60" y1="22.50" x2="319.60" y2="89.40" stroke="#1c1a1b" stroke-width="1.1" />
<line x1="319.10" y1="22.50" x2="442.30" y2="22.50" stroke="#1c1a1b" stroke-width="1.1" />
<line x1="350.10" y1="22.50" x2="350.10" y2="25.70" stroke="#1c1a1b" stroke-width="0.9" />
<line x1="380.40" y1="22.50" x2="380.40" y2="25.70" stroke="#1c1a1b" stroke-width="0.9" />
<line x1="410.70" y1="22.50" x2="410.70" y2="25.70" stroke="#1c1a1b" stroke-width="0.9" />
<line x1="438.40" y1="22.50" x2="438.40" y2="25.70" stroke="#1c1a1b" stroke-width="0.9" />
<line x1="316.00" y1="22.50" x2="319.60" y2="22.50" stroke="#1c1a1b" stroke-width="0.9" />
<text x="313.60" y="25.10" font-size="7.92" text-anchor="end" textLength="3.80" lengthAdjust="spacingAndGlyphs" stroke="#1c1a1b" stroke-width="0.15">0</text>
<line x1="316.00" y1="43.40" x2="319.60" y2="43.40" stroke="#1c1a1b" stroke-width="0.9" />
<text x="313.60" y="46.00" font-size="7.92" text-anchor="end" textLength="8.20" lengthAdjust="spacingAndGlyphs" stroke="#1c1a1b" stroke-width="0.15">−1</text>
<line x1="316.00" y1="64.30" x2="319.60" y2="64.30" stroke="#1c1a1b" stroke-width="0.9" />
<text x="313.60" y="66.90" font-size="7.92" text-anchor="end" textLength="8.20" lengthAdjust="spacingAndGlyphs" stroke="#1c1a1b" stroke-width="0.15">−2</text>
<line x1="316.00" y1="85.20" x2="319.60" y2="85.20" stroke="#1c1a1b" stroke-width="0.9" />
<text x="313.60" y="87.80" font-size="7.92" text-anchor="end" textLength="8.20" lengthAdjust="spacingAndGlyphs" stroke="#1c1a1b" stroke-width="0.15">−3</text>
<rect x="328.30" y="23.00" width="12.50" height="50.50" fill="#c41230" />
<rect x="359.00" y="23.00" width="12.50" height="29.90" fill="#c41230" />
<rect x="389.60" y="23.00" width="12.50" height="34.70" fill="#c41230" />
<rect x="420.00" y="23.00" width="12.90" height="46.60" fill="#c41230" />
<text x="323.50" y="17.00" font-size="8.14" font-style="italic" textLength="22.50" lengthAdjust="spacingAndGlyphs" stroke="#1c1a1b" stroke-width="0.14">Hoxa3</text>
<text x="353.80" y="17.00" font-size="8.14" font-style="italic" textLength="23.20" lengthAdjust="spacingAndGlyphs" stroke="#1c1a1b" stroke-width="0.14">Hoxa7</text>
<text x="384.80" y="17.00" font-size="8.14" font-style="italic" textLength="22.20" lengthAdjust="spacingAndGlyphs" stroke="#1c1a1b" stroke-width="0.14">Hoxa9</text>
<text x="413.70" y="17.00" font-size="8.14" font-style="italic" textLength="26.90" lengthAdjust="spacingAndGlyphs" stroke="#1c1a1b" stroke-width="0.14">Hoxa10</text>
<text x="300.00" y="53.85" font-size="8.8" text-anchor="middle" textLength="57.70" lengthAdjust="spacingAndGlyphs" transform="rotate(-90 300.00 53.85)" stroke="#1c1a1b" stroke-width="0.2">Log2 fold change</text>
<line x1="480.80" y1="22.60" x2="480.80" y2="89.20" stroke="#1c1a1b" stroke-width="1.1" />
<line x1="480.30" y1="22.60" x2="512.30" y2="22.60" stroke="#1c1a1b" stroke-width="1.1" />
<line x1="508.50" y1="22.60" x2="508.50" y2="25.80" stroke="#1c1a1b" stroke-width="0.9" />
<line x1="477.20" y1="22.60" x2="480.80" y2="22.60" stroke="#1c1a1b" stroke-width="0.9" />
<text x="475.40" y="25.20" font-size="7.92" text-anchor="end" textLength="3.80" lengthAdjust="spacingAndGlyphs" stroke="#1c1a1b" stroke-width="0.15">0</text>
<line x1="477.20" y1="38.30" x2="480.80" y2="38.30" stroke="#1c1a1b" stroke-width="0.9" />
<text x="475.40" y="40.90" font-size="7.92" text-anchor="end" textLength="8.20" lengthAdjust="spacingAndGlyphs" stroke="#1c1a1b" stroke-width="0.15">−1</text>
<line x1="477.20" y1="54.00" x2="480.80" y2="54.00" stroke="#1c1a1b" stroke-width="0.9" />
<text x="475.40" y="56.60" font-size="7.92" text-anchor="end" textLength="8.20" lengthAdjust="spacingAndGlyphs" stroke="#1c1a1b" stroke-width="0.15">−2</text>
<line x1="477.20" y1="69.70" x2="480.80" y2="69.70" stroke="#1c1a1b" stroke-width="0.9" />
<text x="475.40" y="72.30" font-size="7.92" text-anchor="end" textLength="8.20" lengthAdjust="spacingAndGlyphs" stroke="#1c1a1b" stroke-width="0.15">−3</text>
<line x1="477.20" y1="85.40" x2="480.80" y2="85.40" stroke="#1c1a1b" stroke-width="0.9" />
<text x="475.40" y="88.00" font-size="7.92" text-anchor="end" textLength="8.20" lengthAdjust="spacingAndGlyphs" stroke="#1c1a1b" stroke-width="0.15">−4</text>
<rect x="488.00" y="23.10" width="13.20" height="49.50" fill="#c41230" />
<text x="484.60" y="16.80" font-size="8.14" font-style="italic" textLength="20.00" lengthAdjust="spacingAndGlyphs" stroke="#1c1a1b" stroke-width="0.14">Meis1</text>
<text x="460.40" y="54.15" font-size="8.8" text-anchor="middle" textLength="56.30" lengthAdjust="spacingAndGlyphs" transform="rotate(-90 460.40 54.15)" stroke="#1c1a1b" stroke-width="0.2">Log2 fold change</text>
<line x1="221.00" y1="107.10" x2="221.00" y2="173.80" stroke="#1c1a1b" stroke-width="1.1" />
<line x1="220.50" y1="107.10" x2="252.30" y2="107.10" stroke="#1c1a1b" stroke-width="1.1" />
<line x1="248.00" y1="107.10" x2="248.00" y2="110.30" stroke="#1c1a1b" stroke-width="0.9" />
<line x1="217.40" y1="107.10" x2="221.00" y2="107.10" stroke="#1c1a1b" stroke-width="0.9" />
<text x="215.00" y="109.70" font-size="7.92" text-anchor="end" textLength="3.80" lengthAdjust="spacingAndGlyphs" stroke="#1c1a1b" stroke-width="0.15">0</text>
<line x1="217.40" y1="119.72" x2="221.00" y2="119.72" stroke="#1c1a1b" stroke-width="0.9" />
<text x="215.00" y="122.32" font-size="7.92" text-anchor="end" textLength="8.20" lengthAdjust="spacingAndGlyphs" stroke="#1c1a1b" stroke-width="0.15">−1</text>
<line x1="217.40" y1="132.34" x2="221.00" y2="132.34" stroke="#1c1a1b" stroke-width="0.9" />
<text x="215.00" y="134.94" font-size="7.92" text-anchor="end" textLength="8.20" lengthAdjust="spacingAndGlyphs" stroke="#1c1a1b" stroke-width="0.15">−2</text>
<line x1="217.40" y1="144.96" x2="221.00" y2="144.96" stroke="#1c1a1b" stroke-width="0.9" />
<text x="215.00" y="147.56" font-size="7.92" text-anchor="end" textLength="8.20" lengthAdjust="spacingAndGlyphs" stroke="#1c1a1b" stroke-width="0.15">−3</text>
<line x1="217.40" y1="157.58" x2="221.00" y2="157.58" stroke="#1c1a1b" stroke-width="0.9" />
<text x="215.00" y="160.18" font-size="7.92" text-anchor="end" textLength="8.20" lengthAdjust="spacingAndGlyphs" stroke="#1c1a1b" stroke-width="0.15">−4</text>
<line x1="217.40" y1="170.20" x2="221.00" y2="170.20" stroke="#1c1a1b" stroke-width="0.9" />
<text x="215.00" y="172.80" font-size="7.92" text-anchor="end" textLength="8.20" lengthAdjust="spacingAndGlyphs" stroke="#1c1a1b" stroke-width="0.15">−5</text>
<rect x="228.30" y="107.60" width="12.90" height="51.10" fill="#c41230" />
<text x="226.00" y="101.30" font-size="8.14" font-style="italic" textLength="17.00" lengthAdjust="spacingAndGlyphs" stroke="#1c1a1b" stroke-width="0.14">Pbx1</text>
<text x="200.90" y="138.65" font-size="8.8" text-anchor="middle" textLength="57.30" lengthAdjust="spacingAndGlyphs" transform="rotate(-90 200.90 138.65)" stroke="#1c1a1b" stroke-width="0.2">Log2 fold change</text>
<line x1="302.50" y1="107.00" x2="302.50" y2="173.80" stroke="#1c1a1b" stroke-width="1.1" />
<line x1="302.00" y1="107.00" x2="333.80" y2="107.00" stroke="#1c1a1b" stroke-width="1.1" />
<line x1="329.40" y1="107.00" x2="329.40" y2="110.20" stroke="#1c1a1b" stroke-width="0.9" />
<line x1="298.90" y1="107.00" x2="302.50" y2="107.00" stroke="#1c1a1b" stroke-width="0.9" />
<text x="296.80" y="109.60" font-size="7.92" text-anchor="end" textLength="3.80" lengthAdjust="spacingAndGlyphs" stroke="#1c1a1b" stroke-width="0.15">0</text>
<line x1="298.90" y1="128.00" x2="302.50" y2="128.00" stroke="#1c1a1b" stroke-width="0.9" />
<text x="296.80" y="130.60" font-size="7.92" text-anchor="end" textLength="8.20" lengthAdjust="spacingAndGlyphs" stroke="#1c1a1b" stroke-width="0.15">−1</text>
<line x1="298.90" y1="149.00" x2="302.50" y2="149.00" stroke="#1c1a1b" stroke-width="0.9" />
<text x="296.80" y="151.60" font-size="7.92" text-anchor="end" textLength="8.20" lengthAdjust="spacingAndGlyphs" stroke="#1c1a1b" stroke-width="0.15">−2</text>
<line x1="298.90" y1="170.00" x2="302.50" y2="170.00" stroke="#1c1a1b" stroke-width="0.9" />
<text x="296.80" y="172.60" font-size="7.92" text-anchor="end" textLength="8.20" lengthAdjust="spacingAndGlyphs" stroke="#1c1a1b" stroke-width="0.15">−3</text>
<rect x="310.20" y="107.50" width="14.00" height="50.20" fill="#c41230" />
<text x="306.00" y="101.30" font-size="8.14" font-style="italic" textLength="22.50" lengthAdjust="spacingAndGlyphs" stroke="#1c1a1b" stroke-width="0.14">Stat5a</text>
<text x="283.80" y="138.65" font-size="8.8" text-anchor="middle" textLength="57.30" lengthAdjust="spacingAndGlyphs" transform="rotate(-90 283.80 138.65)" stroke="#1c1a1b" stroke-width="0.2">Log2 fold change</text>
<line x1="221.20" y1="191.20" x2="221.20" y2="258.10" stroke="#1c1a1b" stroke-width="1.1" />
<line x1="220.70" y1="191.20" x2="281.50" y2="191.20" stroke="#1c1a1b" stroke-width="1.1" />
<line x1="249.50" y1="191.20" x2="249.50" y2="194.40" stroke="#1c1a1b" stroke-width="0.9" />
<line x1="277.40" y1="191.20" x2="277.40" y2="194.40" stroke="#1c1a1b" stroke-width="0.9" />
<line x1="217.60" y1="191.20" x2="221.20" y2="191.20" stroke="#1c1a1b" stroke-width="0.9" />
<text x="215.20" y="193.80" font-size="7.92" text-anchor="end" textLength="3.80" lengthAdjust="spacingAndGlyphs" stroke="#1c1a1b" stroke-width="0.15">0</text>
<line x1="217.60" y1="206.90" x2="221.20" y2="206.90" stroke="#1c1a1b" stroke-width="0.9" />
<text x="215.20" y="209.50" font-size="7.92" text-anchor="end" textLength="8.20" lengthAdjust="spacingAndGlyphs" stroke="#1c1a1b" stroke-width="0.15">−1</text>
<line x1="217.60" y1="222.60" x2="221.20" y2="222.60" stroke="#1c1a1b" stroke-width="0.9" />
<text x="215.20" y="225.20" font-size="7.92" text-anchor="end" textLength="8.20" lengthAdjust="spacingAndGlyphs" stroke="#1c1a1b" stroke-width="0.15">−2</text>
<line x1="217.60" y1="238.30" x2="221.20" y2="238.30" stroke="#1c1a1b" stroke-width="0.9" />
<text x="215.20" y="240.90" font-size="7.92" text-anchor="end" textLength="8.20" lengthAdjust="spacingAndGlyphs" stroke="#1c1a1b" stroke-width="0.15">−3</text>
<line x1="217.60" y1="254.00" x2="221.20" y2="254.00" stroke="#1c1a1b" stroke-width="0.9" />
<text x="215.20" y="256.60" font-size="7.92" text-anchor="end" textLength="8.20" lengthAdjust="spacingAndGlyphs" stroke="#1c1a1b" stroke-width="0.15">−4</text>
<rect x="228.30" y="191.70" width="14.00" height="53.30" fill="#c41230" />
<rect x="257.10" y="191.70" width="12.90" height="28.70" fill="#c41230" />
<text x="225.00" y="185.80" font-size="8.14" font-style="italic" textLength="21.20" lengthAdjust="spacingAndGlyphs" stroke="#1c1a1b" stroke-width="0.14">Gata1</text>
<text x="253.30" y="185.80" font-size="8.14" font-style="italic" textLength="21.10" lengthAdjust="spacingAndGlyphs" stroke="#1c1a1b" stroke-width="0.14">Gata2</text>
<text x="201.60" y="222.40" font-size="8.8" text-anchor="middle" textLength="56.80" lengthAdjust="spacingAndGlyphs" transform="rotate(-90 201.60 222.40)" stroke="#1c1a1b" stroke-width="0.2">Log2 fold change</text>
<line x1="221.20" y1="275.40" x2="221.20" y2="342.00" stroke="#1c1a1b" stroke-width="1.1" />
<line x1="220.70" y1="275.40" x2="281.50" y2="275.40" stroke="#1c1a1b" stroke-width="1.1" />
<line x1="249.50" y1="275.40" x2="249.50" y2="278.60" stroke="#1c1a1b" stroke-width="0.9" />
<line x1="277.40" y1="275.40" x2="277.40" y2="278.60" stroke="#1c1a1b" stroke-width="0.9" />
<line x1="217.60" y1="275.40" x2="221.20" y2="275.40" stroke="#1c1a1b" stroke-width="0.9" />
<text x="215.20" y="278.00" font-size="7.92" text-anchor="end" textLength="3.80" lengthAdjust="spacingAndGlyphs" stroke="#1c1a1b" stroke-width="0.15">0</text>
<line x1="217.60" y1="291.20" x2="221.20" y2="291.20" stroke="#1c1a1b" stroke-width="0.9" />
<text x="215.20" y="293.80" font-size="7.92" text-anchor="end" textLength="8.20" lengthAdjust="spacingAndGlyphs" stroke="#1c1a1b" stroke-width="0.15">−1</text>
<line x1="217.60" y1="307.00" x2="221.20" y2="307.00" stroke="#1c1a1b" stroke-width="0.9" />
<text x="215.20" y="309.60" font-size="7.92" text-anchor="end" textLength="8.20" lengthAdjust="spacingAndGlyphs" stroke="#1c1a1b" stroke-width="0.15">−2</text>
<line x1="217.60" y1="322.80" x2="221.20" y2="322.80" stroke="#1c1a1b" stroke-width="0.9" />
<text x="215.20" y="325.40" font-size="7.92" text-anchor="end" textLength="8.20" lengthAdjust="spacingAndGlyphs" stroke="#1c1a1b" stroke-width="0.15">−3</text>
<line x1="217.60" y1="338.60" x2="221.20" y2="338.60" stroke="#1c1a1b" stroke-width="0.9" />
<text x="215.20" y="341.20" font-size="7.92" text-anchor="end" textLength="8.20" lengthAdjust="spacingAndGlyphs" stroke="#1c1a1b" stroke-width="0.15">−4</text>
<rect x="228.30" y="275.90" width="14.00" height="52.90" fill="#c41230" />
<rect x="257.10" y="275.90" width="12.90" height="17.40" fill="#c41230" />
<text x="225.40" y="270.20" font-size="8.14" font-style="italic" textLength="19.60" lengthAdjust="spacingAndGlyphs" stroke="#1c1a1b" stroke-width="0.14">Gfi1b</text>
<text x="255.20" y="270.20" font-size="8.14" font-style="italic" textLength="16.30" lengthAdjust="spacingAndGlyphs" stroke="#1c1a1b" stroke-width="0.14">Egr1</text>
<text x="201.60" y="307.20" font-size="8.8" text-anchor="middle" textLength="56.80" lengthAdjust="spacingAndGlyphs" transform="rotate(-90 201.60 307.20)" stroke="#1c1a1b" stroke-width="0.2">Log2 fold change</text>
<text x="422.60" y="126.50" font-size="9.24" text-anchor="middle" textLength="117.50" lengthAdjust="spacingAndGlyphs" stroke="#1c1a1b" stroke-width="0.08">Regulators of the HSCs and</text>
<text x="422.60" y="137.70" font-size="9.24" text-anchor="middle" textLength="161.00" lengthAdjust="spacingAndGlyphs" stroke="#1c1a1b" stroke-width="0.08">progenitors mRNA levels vs. H3K14ac</text>
<text x="422.60" y="148.80" font-size="9.24" text-anchor="middle" textLength="179.80" lengthAdjust="spacingAndGlyphs" stroke="#1c1a1b" stroke-width="0.08">levels <tspan font-style="italic">Hbo1<tspan dy="-2.7" font-size="6.0">fl/fl</tspan><tspan dy="2.7">Mx1Cre</tspan></tspan> vs. <tspan font-style="italic">Hbo1<tspan dy="-2.7" font-size="6.0">fl/+</tspan><tspan dy="2.7">Mx1Cre</tspan></tspan></text>
<text x="422.60" y="159.80" font-size="9.24" text-anchor="middle" textLength="36.00" lengthAdjust="spacingAndGlyphs" stroke="#1c1a1b" stroke-width="0.08">LSK cells</text>
<rect x="343.5" y="167.4" width="158.30" height="154.00" fill="none" stroke="#c9c9c9" stroke-width="0.9"/>
<line x1="396.80" y1="167.40" x2="396.80" y2="321.40" stroke="#c9c9c9" stroke-width="0.9" />
<line x1="343.50" y1="203.80" x2="501.80" y2="203.80" stroke="#1c1a1b" stroke-width="1.2" />
<line x1="343.50" y1="203.80" x2="343.50" y2="206.00" stroke="#1c1a1b" stroke-width="0.8" />
<line x1="359.38" y1="203.80" x2="359.38" y2="205.20" stroke="#1c1a1b" stroke-width="0.8" />
<line x1="368.68" y1="203.80" x2="368.68" y2="205.20" stroke="#1c1a1b" stroke-width="0.8" />
<line x1="375.27" y1="203.80" x2="375.27" y2="205.20" stroke="#1c1a1b" stroke-width="0.8" />
<line x1="380.38" y1="203.80" x2="380.38" y2="205.20" stroke="#1c1a1b" stroke-width="0.8" />
<line x1="384.56" y1="203.80" x2="384.56" y2="205.20" stroke="#1c1a1b" stroke-width="0.8" />
<line x1="388.09" y1="203.80" x2="388.09" y2="205.20" stroke="#1c1a1b" stroke-width="0.8" />
<line x1="391.15" y1="203.80" x2="391.15" y2="205.20" stroke="#1c1a1b" stroke-width="0.8" />
<line x1="393.85" y1="203.80" x2="393.85" y2="205.20" stroke="#1c1a1b" stroke-width="0.8" />
<line x1="396.27" y1="203.80" x2="396.27" y2="206.00" stroke="#1c1a1b" stroke-width="0.8" />
<line x1="396.27" y1="203.80" x2="396.27" y2="206.00" stroke="#1c1a1b" stroke-width="0.8" />
<line x1="412.15" y1="203.80" x2="412.15" y2="205.20" stroke="#1c1a1b" stroke-width="0.8" />
<line x1="421.44" y1="203.80" x2="421.44" y2="205.20" stroke="#1c1a1b" stroke-width="0.8" />
<line x1="428.04" y1="203.80" x2="428.04" y2="205.20" stroke="#1c1a1b" stroke-width="0.8" />
<line x1="433.15" y1="203.80" x2="433.15" y2="205.20" stroke="#1c1a1b" stroke-width="0.8" />
<line x1="437.33" y1="203.80" x2="437.33" y2="205.20" stroke="#1c1a1b" stroke-width="0.8" />
<line x1="440.86" y1="203.80" x2="440.86" y2="205.20" stroke="#1c1a1b" stroke-width="0.8" />
<line x1="443.92" y1="203.80" x2="443.92" y2="205.20" stroke="#1c1a1b" stroke-width="0.8" />
<line x1="446.62" y1="203.80" x2="446.62" y2="205.20" stroke="#1c1a1b" stroke-width="0.8" />
<line x1="464.92" y1="203.80" x2="464.92" y2="205.20" stroke="#1c1a1b" stroke-width="0.8" />
<line x1="474.21" y1="203.80" x2="474.21" y2="205.20" stroke="#1c1a1b" stroke-width="0.8" />
<line x1="480.80" y1="203.80" x2="480.80" y2="205.20" stroke="#1c1a1b" stroke-width="0.8" />
<line x1="485.92" y1="203.80" x2="485.92" y2="205.20" stroke="#1c1a1b" stroke-width="0.8" />
<line x1="490.09" y1="203.80" x2="490.09" y2="205.20" stroke="#1c1a1b" stroke-width="0.8" />
<line x1="493.63" y1="203.80" x2="493.63" y2="205.20" stroke="#1c1a1b" stroke-width="0.8" />
<line x1="496.69" y1="203.80" x2="496.69" y2="205.20" stroke="#1c1a1b" stroke-width="0.8" />
<line x1="499.39" y1="203.80" x2="499.39" y2="205.20" stroke="#1c1a1b" stroke-width="0.8" />
<line x1="501.80" y1="203.80" x2="501.80" y2="206.00" stroke="#1c1a1b" stroke-width="0.8" />
<line x1="449.20" y1="167.40" x2="449.20" y2="321.40" stroke="#1c1a1b" stroke-width="1.2" />
<line x1="446.80" y1="167.80" x2="449.20" y2="167.80" stroke="#1c1a1b" stroke-width="0.8" />
<line x1="445.50" y1="321.40" x2="449.20" y2="321.40" stroke="#1c1a1b" stroke-width="0.8" />
<line x1="446.60" y1="286.00" x2="449.20" y2="286.00" stroke="#1c1a1b" stroke-width="0.8" />
<line x1="446.60" y1="265.29" x2="449.20" y2="265.29" stroke="#1c1a1b" stroke-width="0.8" />
<line x1="446.60" y1="250.60" x2="449.20" y2="250.60" stroke="#1c1a1b" stroke-width="0.8" />
<line x1="446.60" y1="239.20" x2="449.20" y2="239.20" stroke="#1c1a1b" stroke-width="0.8" />
<line x1="446.60" y1="229.89" x2="449.20" y2="229.89" stroke="#1c1a1b" stroke-width="0.8" />
<line x1="446.60" y1="222.02" x2="449.20" y2="222.02" stroke="#1c1a1b" stroke-width="0.8" />
<line x1="446.60" y1="215.20" x2="449.20" y2="215.20" stroke="#1c1a1b" stroke-width="0.8" />
<line x1="446.60" y1="209.18" x2="449.20" y2="209.18" stroke="#1c1a1b" stroke-width="0.8" />
<text x="347.60" y="178.50" font-size="7.92" fill="#262626" textLength="37.40" lengthAdjust="spacingAndGlyphs" stroke="#262626" stroke-width="0.08">R<tspan dy="-2.6" font-size="4.6">2</tspan><tspan dy="2.6"> = 0.463</tspan></text>
<text x="335.80" y="215.00" font-size="7.92" fill="#262626" textLength="14.60" lengthAdjust="spacingAndGlyphs" stroke="#262626" stroke-width="0.08">0.01</text>
<text x="391.00" y="215.00" font-size="7.92" fill="#262626" textLength="10.50" lengthAdjust="spacingAndGlyphs" stroke="#262626" stroke-width="0.08">0.1</text>
<text x="440.00" y="215.00" font-size="7.92" fill="#262626" stroke="#262626" stroke-width="0.08">1</text>
<text x="498.00" y="215.00" font-size="7.92" fill="#262626" textLength="8.00" lengthAdjust="spacingAndGlyphs" stroke="#262626" stroke-width="0.08">10</text>
<text x="442.00" y="323.00" font-size="7.92" fill="#262626" text-anchor="end" textLength="10.00" lengthAdjust="spacingAndGlyphs" stroke="#262626" stroke-width="0.08">0.1</text>
<text x="331.30" y="244.20" font-size="8.58" text-anchor="middle" textLength="94.40" lengthAdjust="spacingAndGlyphs" transform="rotate(-90 331.30 244.20)" stroke="#1c1a1b" stroke-width="0.25">Fold-change in mRNA levels</text>
<text x="382.10" y="336.00" font-size="8.58" textLength="81.20" lengthAdjust="spacingAndGlyphs" stroke="#1c1a1b" stroke-width="0.25">Fold-change in H3K14ac</text>
<path d="M383.20,267.00 C385.50,262.95 391.53,250.28 397.00,242.70 C402.47,235.12 409.00,227.72 416.00,221.50 C423.00,215.28 430.43,210.73 439.00,205.40 C447.57,200.07 462.67,192.15 467.40,189.50" stroke="#d0203f" stroke-width="1.1" fill="none" stroke-dasharray="1.5 0.8"/>
<circle cx="416.30" cy="191.50" r="2.05" fill="#c8102e" />
<circle cx="421.90" cy="194.40" r="2.05" fill="#c8102e" />
<circle cx="468.30" cy="184.80" r="2.05" fill="#c8102e" />
<circle cx="396.50" cy="226.80" r="2.05" fill="#c8102e" />
<circle cx="398.10" cy="229.00" r="2.05" fill="#c8102e" />
<circle cx="410.00" cy="222.70" r="2.05" fill="#c8102e" />
<circle cx="412.80" cy="219.90" r="2.05" fill="#c8102e" />
<circle cx="415.70" cy="224.90" r="2.05" fill="#c8102e" />
<circle cx="383.60" cy="255.00" r="2.05" fill="#c8102e" />
<circle cx="394.00" cy="253.00" r="2.05" fill="#c8102e" />
<circle cx="394.80" cy="261.20" r="2.05" fill="#c8102e" />
<circle cx="419.10" cy="248.00" r="2.05" fill="#c8102e" />
<circle cx="422.10" cy="248.80" r="2.05" fill="#c8102e" />
<circle cx="431.50" cy="258.50" r="2.05" fill="#c8102e" />
<circle cx="391.20" cy="274.20" r="2.05" fill="#c8102e" />
<circle cx="385.60" cy="300.30" r="2.05" fill="#c8102e" />
<text x="7.20" y="362.20" font-size="11" font-weight="bold" stroke="#1c1a1b" stroke-width="0.1">D</text>
<text x="160.50" y="365.80" font-size="8.8" textLength="145.00" lengthAdjust="spacingAndGlyphs" stroke="#1c1a1b" stroke-width="0.08">H3K14ac levels at the <tspan font-style="italic">Mpl</tspan> locus in</text>
<text x="131.30" y="376.30" font-size="8.8" textLength="204.20" lengthAdjust="spacingAndGlyphs" stroke="#1c1a1b" stroke-width="0.08"><tspan font-style="italic">Hbo1<tspan dy="-2.6" font-size="5.8">fl/fl</tspan><tspan dy="2.6">;Mx1-Cre</tspan></tspan> vs. <tspan font-style="italic">Hbo1<tspan dy="-2.6" font-size="5.8">fl/+</tspan><tspan dy="2.6">;Mx1-Cre</tspan></tspan> LSK cells</text>
<text x="42.50" y="398.80" font-size="7.59" textLength="60.50" lengthAdjust="spacingAndGlyphs" stroke="#1c1a1b" stroke-width="0.08">Chr4: 118,442 kb</text>
<text x="135.50" y="398.50" font-size="7.59" textLength="38.30" lengthAdjust="spacingAndGlyphs" stroke="#1c1a1b" stroke-width="0.08">118,446 kb</text>
<text x="217.50" y="398.50" font-size="7.59" textLength="35.00" lengthAdjust="spacingAndGlyphs" stroke="#1c1a1b" stroke-width="0.08">118,450kb</text>
<text x="297.00" y="398.50" font-size="7.59" textLength="38.50" lengthAdjust="spacingAndGlyphs" stroke="#1c1a1b" stroke-width="0.08">118,454 kb</text>
<text x="377.00" y="398.80" font-size="7.59" textLength="39.20" lengthAdjust="spacingAndGlyphs" stroke="#1c1a1b" stroke-width="0.08">118,458 kb</text>
<line x1="42.50" y1="405.10" x2="423.80" y2="405.10" stroke="#1c1a1b" stroke-width="1.1" />
<line x1="74.50" y1="402.80" x2="74.50" y2="405.10" stroke="#1c1a1b" stroke-width="0.8" />
<line x1="114.50" y1="402.80" x2="114.50" y2="405.10" stroke="#1c1a1b" stroke-width="0.8" />
<line x1="154.50" y1="402.80" x2="154.50" y2="405.10" stroke="#1c1a1b" stroke-width="0.8" />
<line x1="194.70" y1="402.80" x2="194.70" y2="405.10" stroke="#1c1a1b" stroke-width="0.8" />
<line x1="235.00" y1="402.80" x2="235.00" y2="405.10" stroke="#1c1a1b" stroke-width="0.8" />
<line x1="275.10" y1="402.80" x2="275.10" y2="405.10" stroke="#1c1a1b" stroke-width="0.8" />
<line x1="315.30" y1="402.80" x2="315.30" y2="405.10" stroke="#1c1a1b" stroke-width="0.8" />
<line x1="355.50" y1="402.80" x2="355.50" y2="405.10" stroke="#1c1a1b" stroke-width="0.8" />
<line x1="395.80" y1="402.80" x2="395.80" y2="405.10" stroke="#1c1a1b" stroke-width="0.8" />
<line x1="37.50" y1="409.20" x2="37.50" y2="447.60" stroke="#000" stroke-width="1.1" />
<text x="42.50" y="418.80" font-size="7.7" textLength="120.00" lengthAdjust="spacingAndGlyphs" stroke="#1c1a1b" stroke-width="0.08">[0–17] H3K14ac <tspan font-style="italic">Hbo1<tspan dy="-2.5" font-size="5.4">fl/+</tspan><tspan dy="2.5">;Mx1-Cre</tspan></tspan></text>
<line x1="37.50" y1="448.80" x2="37.50" y2="488.00" stroke="#000" stroke-width="1.1" />
<text x="42.50" y="459.60" font-size="7.7" textLength="121.00" lengthAdjust="spacingAndGlyphs" stroke="#1c1a1b" stroke-width="0.08">[0–17] H3K14ac&#160; <tspan font-style="italic">Hbo1<tspan dy="-2.5" font-size="5.4">fl/fl</tspan><tspan dy="2.5">;Mx1-Cre</tspan></tspan></text>
<line x1="41.30" y1="448.40" x2="424.00" y2="448.40" stroke="#333" stroke-width="1.0" />
<line x1="41.30" y1="488.50" x2="424.00" y2="488.50" stroke="#111" stroke-width="1.1" />
<path d="M42.00,447.95 L42.00,447.80 L42.42,447.80 L42.42,447.08 L42.84,447.08 L42.84,447.74 L43.26,447.74 L43.26,446.76 L43.68,446.76 L43.68,447.85 L44.10,447.85 L44.10,447.95 L44.52,447.95 L44.52,447.83 L44.94,447.83 L44.94,447.78 L45.36,447.78 L45.36,447.91 L45.78,447.91 L45.78,446.38 L46.20,446.38 L46.20,446.63 L46.62,446.63 L46.62,447.93 L47.04,447.93 L47.04,447.85 L47.46,447.85 L47.46,446.47 L47.88,446.47 L47.88,447.81 L48.30,447.81 L48.30,447.84 L48.72,447.84 L48.72,447.39 L49.14,447.39 L49.14,447.56 L49.56,447.56 L49.56,447.92 L49.98,447.92 L49.98,447.75 L50.40,447.75 L50.40,447.78 L50.82,447.78 L50.82,446.44 L51.24,446.44 L51.24,446.86 L51.66,446.86 L51.66,447.17 L52.08,447.17 L52.08,447.85 L52.50,447.85 L52.50,447.77 L52.92,447.77 L52.92,446.53 L53.34,446.53 L53.34,447.46 L53.76,447.46 L53.76,447.39 L54.18,447.39 L54.18,446.39 L54.60,446.39 L54.60,447.95 L55.02,447.95 L55.02,446.93 L55.44,446.93 L55.44,447.32 L55.86,447.32 L55.86,447.23 L56.28,447.23 L56.28,447.73 L56.70,447.73 L56.70,447.21 L57.12,447.21 L57.12,447.92 L57.54,447.92 L57.54,447.55 L57.96,447.55 L57.96,447.55 L58.38,447.55 L58.38,447.90 L58.80,447.90 L58.80,447.90 L59.22,447.90 L59.22,446.82 L59.64,446.82 L59.64,446.99 L60.06,446.99 L60.06,446.58 L60.48,446.58 L60.48,447.46 L60.90,447.46 L60.90,446.45 L61.32,446.45 L61.32,446.61 L61.74,446.61 L61.74,447.88 L62.16,447.88 L62.16,447.75 L62.58,447.75 L62.58,447.90 L63.00,447.90 L63.00,446.82 L63.42,446.82 L63.42,447.76 L63.84,447.76 L63.84,447.91 L64.26,447.91 L64.26,447.87 L64.68,447.87 L64.68,447.90 L65.10,447.90 L65.10,446.58 L65.52,446.58 L65.52,446.87 L65.94,446.87 L65.94,447.69 L66.36,447.69 L66.36,447.27 L66.78,447.27 L66.78,447.95 L67.20,447.95 L67.20,446.70 L67.62,446.70 L67.62,446.61 L68.04,446.61 L68.04,447.43 L68.46,447.43 L68.46,446.68 L68.88,446.68 L68.88,447.85 L69.30,447.85 L69.30,447.78 L69.72,447.78 L69.72,446.99 L70.14,446.99 L70.14,447.95 L70.56,447.95 L70.56,447.65 L70.98,447.65 L70.98,447.91 L71.40,447.91 L71.40,447.79 L71.82,447.79 L71.82,447.88 L72.24,447.88 L72.24,447.92 L72.66,447.92 L72.66,447.91 L73.08,447.91 L73.08,447.62 L73.50,447.62 L73.50,447.59 L73.92,447.59 L73.92,446.07 L74.34,446.07 L74.34,447.70 L74.76,447.70 L74.76,447.89 L75.18,447.89 L75.18,446.77 L75.60,446.77 L75.60,447.66 L76.02,447.66 L76.02,445.25 L76.44,445.25 L76.44,444.94 L76.86,444.94 L76.86,447.94 L77.28,447.94 L77.28,447.83 L77.70,447.83 L77.70,447.51 L78.12,447.51 L78.12,447.25 L78.54,447.25 L78.54,447.81 L78.96,447.81 L78.96,446.72 L79.38,446.72 L79.38,447.40 L79.80,447.40 L79.80,446.23 L80.22,446.23 L80.22,447.36 L80.64,447.36 L80.64,445.78 L81.06,445.78 L81.06,445.14 L81.48,445.14 L81.48,447.03 L81.90,447.03 L81.90,446.13 L82.32,446.13 L82.32,447.83 L82.74,447.83 L82.74,443.88 L83.16,443.88 L83.16,447.00 L83.58,447.00 L83.58,447.92 L84.00,447.92 L84.00,447.81 L84.42,447.81 L84.42,445.01 L84.84,445.01 L84.84,447.61 L85.26,447.61 L85.26,445.58 L85.68,445.58 L85.68,446.17 L86.10,446.17 L86.10,447.76 L86.52,447.76 L86.52,447.87 L86.94,447.87 L86.94,447.27 L87.36,447.27 L87.36,444.72 L87.78,444.72 L87.78,441.95 L88.20,441.95 L88.20,443.91 L88.62,443.91 L88.62,447.08 L89.04,447.08 L89.04,447.89 L89.46,447.89 L89.46,447.32 L89.88,447.32 L89.88,446.60 L90.30,446.60 L90.30,447.09 L90.72,447.09 L90.72,447.02 L91.14,447.02 L91.14,446.96 L91.56,446.96 L91.56,447.70 L91.98,447.70 L91.98,447.49 L92.40,447.49 L92.40,446.72 L92.82,446.72 L92.82,447.72 L93.24,447.72 L93.24,447.60 L93.66,447.60 L93.66,447.88 L94.08,447.88 L94.08,447.84 L94.50,447.84 L94.50,447.62 L94.92,447.62 L94.92,446.88 L95.34,446.88 L95.34,447.86 L95.76,447.86 L95.76,447.80 L96.18,447.80 L96.18,447.57 L96.60,447.57 L96.60,447.81 L97.02,447.81 L97.02,446.47 L97.44,446.47 L97.44,447.68 L97.86,447.68 L97.86,447.81 L98.28,447.81 L98.28,447.76 L98.70,447.76 L98.70,447.65 L99.12,447.65 L99.12,442.45 L99.54,442.45 L99.54,445.92 L99.96,445.92 L99.96,447.78 L100.38,447.78 L100.38,447.69 L100.80,447.69 L100.80,439.95 L101.22,439.95 L101.22,444.41 L101.64,444.41 L101.64,442.50 L102.06,442.50 L102.06,447.92 L102.48,447.92 L102.48,447.86 L102.90,447.86 L102.90,447.39 L103.32,447.39 L103.32,447.94 L103.74,447.94 L103.74,447.67 L104.16,447.67 L104.16,445.82 L104.58,445.82 L104.58,447.70 L105.00,447.70 L105.00,443.56 L105.42,443.56 L105.42,447.56 L105.84,447.56 L105.84,447.27 L106.26,447.27 L106.26,447.54 L106.68,447.54 L106.68,443.48 L107.10,443.48 L107.10,442.57 L107.52,442.57 L107.52,447.92 L107.94,447.92 L107.94,447.73 L108.36,447.73 L108.36,443.88 L108.78,443.88 L108.78,447.85 L109.20,447.85 L109.20,443.39 L109.62,443.39 L109.62,444.75 L110.04,444.75 L110.04,443.50 L110.46,443.50 L110.46,446.87 L110.88,446.87 L110.88,446.72 L111.30,446.72 L111.30,447.18 L111.72,447.18 L111.72,447.77 L112.14,447.77 L112.14,447.41 L112.56,447.41 L112.56,447.79 L112.98,447.79 L112.98,447.87 L113.40,447.87 L113.40,444.34 L113.82,444.34 L113.82,447.87 L114.24,447.87 L114.24,442.53 L114.66,442.53 L114.66,446.09 L115.08,446.09 L115.08,444.01 L115.50,444.01 L115.50,447.73 L115.92,447.73 L115.92,447.83 L116.34,447.83 L116.34,446.42 L116.76,446.42 L116.76,447.46 L117.18,447.46 L117.18,444.14 L117.60,444.14 L117.60,447.39 L118.02,447.39 L118.02,443.45 L118.44,443.45 L118.44,447.41 L118.86,447.41 L118.86,443.66 L119.28,443.66 L119.28,445.32 L119.70,445.32 L119.70,442.23 L120.12,442.23 L120.12,446.33 L120.54,446.33 L120.54,447.76 L120.96,447.76 L120.96,447.50 L121.38,447.50 L121.38,442.95 L121.80,442.95 L121.80,444.38 L122.22,444.38 L122.22,446.36 L122.64,446.36 L122.64,447.73 L123.06,447.73 L123.06,446.20 L123.48,446.20 L123.48,446.69 L123.90,446.69 L123.90,446.46 L124.32,446.46 L124.32,447.88 L124.74,447.88 L124.74,447.76 L125.16,447.76 L125.16,446.61 L125.58,446.61 L125.58,447.93 L126.00,447.93 L126.00,447.38 L126.42,447.38 L126.42,447.93 L126.84,447.93 L126.84,447.92 L127.26,447.92 L127.26,443.19 L127.68,443.19 L127.68,443.40 L128.10,443.40 L128.10,447.90 L128.52,447.90 L128.52,446.23 L128.94,446.23 L128.94,444.21 L129.36,444.21 L129.36,447.50 L129.78,447.50 L129.78,446.20 L130.20,446.20 L130.20,447.64 L130.62,447.64 L130.62,445.61 L131.04,445.61 L131.04,447.88 L131.46,447.88 L131.46,445.33 L131.88,445.33 L131.88,444.42 L132.30,444.42 L132.30,442.74 L132.72,442.74 L132.72,447.72 L133.14,447.72 L133.14,444.86 L133.56,444.86 L133.56,445.38 L133.98,445.38 L133.98,442.95 L134.40,442.95 L134.40,444.44 L134.82,444.44 L134.82,447.64 L135.24,447.64 L135.24,446.51 L135.66,446.51 L135.66,445.82 L136.08,445.82 L136.08,446.41 L136.50,446.41 L136.50,445.26 L136.92,445.26 L136.92,443.60 L137.34,443.60 L137.34,447.73 L137.76,447.73 L137.76,444.14 L138.18,444.14 L138.18,447.24 L138.60,447.24 L138.60,443.71 L139.02,443.71 L139.02,447.76 L139.44,447.76 L139.44,447.51 L139.86,447.51 L139.86,447.33 L140.28,447.33 L140.28,447.47 L140.70,447.47 L140.70,447.84 L141.12,447.84 L141.12,445.83 L141.54,445.83 L141.54,447.23 L141.96,447.23 L141.96,446.68 L142.38,446.68 L142.38,447.74 L142.80,447.74 L142.80,447.89 L143.22,447.89 L143.22,444.67 L143.64,444.67 L143.64,447.60 L144.06,447.60 L144.06,447.50 L144.48,447.50 L144.48,444.50 L144.90,444.50 L144.90,446.12 L145.32,446.12 L145.32,442.96 L145.74,442.96 L145.74,445.03 L146.16,445.03 L146.16,446.53 L146.58,446.53 L146.58,444.31 L147.00,444.31 L147.00,446.05 L147.42,446.05 L147.42,447.20 L147.84,447.20 L147.84,447.92 L148.26,447.92 L148.26,447.67 L148.68,447.67 L148.68,445.32 L149.10,445.32 L149.10,447.73 L149.52,447.73 L149.52,447.45 L149.94,447.45 L149.94,446.72 L150.36,446.72 L150.36,447.84 L150.78,447.84 L150.78,447.86 L151.20,447.86 L151.20,441.95 L151.62,441.95 L151.62,444.72 L152.04,444.72 L152.04,447.60 L152.46,447.60 L152.46,446.33 L152.88,446.33 L152.88,447.29 L153.30,447.29 L153.30,447.60 L153.72,447.60 L153.72,447.12 L154.14,447.12 L154.14,447.91 L154.56,447.91 L154.56,445.38 L154.98,445.38 L154.98,445.70 L155.40,445.70 L155.40,447.94 L155.82,447.94 L155.82,446.77 L156.24,446.77 L156.24,446.57 L156.66,446.57 L156.66,447.88 L157.08,447.88 L157.08,443.43 L157.50,443.43 L157.50,447.56 L157.92,447.56 L157.92,447.24 L158.34,447.24 L158.34,442.94 L158.76,442.94 L158.76,444.53 L159.18,444.53 L159.18,447.45 L159.60,447.45 L159.60,444.87 L160.02,444.87 L160.02,446.41 L160.44,446.41 L160.44,447.93 L160.86,447.93 L160.86,447.72 L161.28,447.72 L161.28,444.07 L161.70,444.07 L161.70,447.51 L162.12,447.51 L162.12,447.64 L162.54,447.64 L162.54,447.68 L162.96,447.68 L162.96,446.49 L163.38,446.49 L163.38,446.22 L163.80,446.22 L163.80,445.08 L164.22,445.08 L164.22,445.50 L164.64,445.50 L164.64,447.31 L165.06,447.31 L165.06,446.83 L165.48,446.83 L165.48,447.36 L165.90,447.36 L165.90,447.69 L166.32,447.69 L166.32,447.94 L166.74,447.94 L166.74,443.58 L167.16,443.58 L167.16,447.48 L167.58,447.48 L167.58,444.95 L168.00,444.95 L168.00,444.42 L168.42,444.42 L168.42,447.73 L168.84,447.73 L168.84,445.28 L169.26,445.28 L169.26,444.70 L169.68,444.70 L169.68,446.71 L170.10,446.71 L170.10,447.32 L170.52,447.32 L170.52,444.77 L170.94,444.77 L170.94,444.80 L171.36,444.80 L171.36,447.55 L171.78,447.55 L171.78,444.81 L172.20,444.81 L172.20,447.06 L172.62,447.06 L172.62,447.64 L173.04,447.64 L173.04,447.69 L173.46,447.69 L173.46,447.38 L173.88,447.38 L173.88,446.28 L174.30,446.28 L174.30,445.63 L174.72,445.63 L174.72,445.23 L175.14,445.23 L175.14,444.89 L175.56,444.89 L175.56,445.96 L175.98,445.96 L175.98,444.93 L176.40,444.93 L176.40,446.90 L176.82,446.90 L176.82,447.85 L177.24,447.85 L177.24,447.81 L177.66,447.81 L177.66,447.95 L178.08,447.95 L178.08,446.82 L178.50,446.82 L178.50,447.89 L178.92,447.89 L178.92,447.77 L179.34,447.77 L179.34,447.30 L179.76,447.30 L179.76,445.92 L180.18,445.92 L180.18,447.02 L180.60,447.02 L180.60,447.76 L181.02,447.76 L181.02,445.96 L181.44,445.96 L181.44,447.49 L181.86,447.49 L181.86,446.24 L182.28,446.24 L182.28,445.96 L182.70,445.96 L182.70,447.72 L183.12,447.72 L183.12,445.06 L183.54,445.06 L183.54,446.21 L183.96,446.21 L183.96,447.35 L184.38,447.35 L184.38,447.95 L184.80,447.95 L184.80,447.64 L185.22,447.64 L185.22,447.89 L185.64,447.89 L185.64,447.59 L186.06,447.59 L186.06,447.19 L186.48,447.19 L186.48,446.68 L186.90,446.68 L186.90,447.82 L187.32,447.82 L187.32,447.78 L187.74,447.78 L187.74,446.52 L188.16,446.52 L188.16,447.91 L188.58,447.91 L188.58,447.48 L189.00,447.48 L189.00,446.67 L189.42,446.67 L189.42,447.79 L189.84,447.79 L189.84,447.59 L190.26,447.59 L190.26,447.42 L190.68,447.42 L190.68,447.71 L191.10,447.71 L191.10,446.45 L191.52,446.45 L191.52,447.37 L191.94,447.37 L191.94,447.78 L192.36,447.78 L192.36,447.11 L192.78,447.11 L192.78,446.62 L193.20,446.62 L193.20,447.89 L193.62,447.89 L193.62,447.33 L194.04,447.33 L194.04,447.80 L194.46,447.80 L194.46,447.85 L194.88,447.85 L194.88,447.80 L195.30,447.80 L195.30,447.90 L195.72,447.90 L195.72,447.08 L196.14,447.08 L196.14,447.91 L196.56,447.91 L196.56,446.45 L196.98,446.45 L196.98,447.18 L197.40,447.18 L197.40,447.13 L197.82,447.13 L197.82,447.41 L198.24,447.41 L198.24,447.92 L198.66,447.92 L198.66,447.78 L199.08,447.78 L199.08,447.90 L199.50,447.90 L199.50,447.81 L199.92,447.81 L199.92,447.90 L200.34,447.90 L200.34,441.95 L200.76,441.95 L200.76,443.46 L201.18,443.46 L201.18,447.94 L201.60,447.94 L201.60,447.86 L202.02,447.86 L202.02,447.78 L202.44,447.78 L202.44,444.34 L202.86,444.34 L202.86,446.23 L203.28,446.23 L203.28,445.16 L203.70,445.16 L203.70,445.53 L204.12,445.53 L204.12,445.94 L204.54,445.94 L204.54,445.44 L204.96,445.44 L204.96,447.14 L205.38,447.14 L205.38,443.54 L205.80,443.54 L205.80,447.35 L206.22,447.35 L206.22,447.50 L206.64,447.50 L206.64,444.82 L207.06,444.82 L207.06,447.65 L207.48,447.65 L207.48,447.17 L207.90,447.17 L207.90,445.39 L208.32,445.39 L208.32,447.91 L208.74,447.91 L208.74,447.30 L209.16,447.30 L209.16,445.92 L209.58,445.92 L209.58,446.05 L210.00,446.05 L210.00,443.58 L210.42,443.58 L210.42,447.25 L210.84,447.25 L210.84,446.48 L211.26,446.48 L211.26,447.54 L211.68,447.54 L211.68,445.13 L212.10,445.13 L212.10,447.95 L212.52,447.95 L212.52,447.76 L212.94,447.76 L212.94,445.24 L213.36,445.24 L213.36,443.80 L213.78,443.80 L213.78,444.23 L214.20,444.23 L214.20,445.68 L214.62,445.68 L214.62,447.83 L215.04,447.83 L215.04,446.68 L215.46,446.68 L215.46,447.72 L215.88,447.72 L215.88,445.20 L216.30,445.20 L216.30,447.85 L216.72,447.85 L216.72,446.85 L217.14,446.85 L217.14,447.29 L217.56,447.29 L217.56,447.49 L217.98,447.49 L217.98,444.98 L218.40,444.98 L218.40,447.91 L218.82,447.91 L218.82,447.10 L219.24,447.10 L219.24,447.09 L219.66,447.09 L219.66,447.85 L220.08,447.85 L220.08,447.14 L220.50,447.14 L220.50,447.95 L220.92,447.95 L220.92,447.83 L221.34,447.83 L221.34,447.36 L221.76,447.36 L221.76,447.63 L222.18,447.63 L222.18,447.69 L222.60,447.69 L222.60,447.82 L223.02,447.82 L223.02,447.93 L223.44,447.93 L223.44,447.91 L223.86,447.91 L223.86,447.65 L224.28,447.65 L224.28,447.47 L224.70,447.47 L224.70,447.89 L225.12,447.89 L225.12,447.26 L225.54,447.26 L225.54,447.23 L225.96,447.23 L225.96,447.88 L226.38,447.88 L226.38,446.39 L226.80,446.39 L226.80,447.75 L227.22,447.75 L227.22,446.15 L227.64,446.15 L227.64,443.38 L228.06,443.38 L228.06,442.88 L228.48,442.88 L228.48,446.07 L228.90,446.07 L228.90,447.82 L229.32,447.82 L229.32,447.38 L229.74,447.38 L229.74,447.61 L230.16,447.61 L230.16,443.53 L230.58,443.53 L230.58,443.64 L231.00,443.64 L231.00,443.66 L231.42,443.66 L231.42,446.47 L231.84,446.47 L231.84,447.17 L232.26,447.17 L232.26,446.36 L232.68,446.36 L232.68,447.33 L233.10,447.33 L233.10,445.87 L233.52,445.87 L233.52,447.91 L233.94,447.91 L233.94,444.45 L234.36,444.45 L234.36,442.41 L234.78,442.41 L234.78,443.57 L235.20,443.57 L235.20,447.74 L235.62,447.74 L235.62,446.92 L236.04,446.92 L236.04,447.49 L236.46,447.49 L236.46,447.14 L236.88,447.14 L236.88,444.70 L237.30,444.70 L237.30,442.26 L237.72,442.26 L237.72,445.59 L238.14,445.59 L238.14,447.33 L238.56,447.33 L238.56,443.47 L238.98,443.47 L238.98,442.24 L239.40,442.24 L239.40,445.58 L239.82,445.58 L239.82,447.82 L240.24,447.82 L240.24,447.84 L240.66,447.84 L240.66,447.36 L241.08,447.36 L241.08,444.90 L241.50,444.90 L241.50,443.96 L241.92,443.96 L241.92,440.95 L242.34,440.95 L242.34,443.53 L242.76,443.53 L242.76,446.87 L243.18,446.87 L243.18,442.60 L243.60,442.60 L243.60,447.25 L244.02,447.25 L244.02,445.63 L244.44,445.63 L244.44,446.46 L244.86,446.46 L244.86,445.67 L245.28,445.67 L245.28,447.90 L245.70,447.90 L245.70,447.54 L246.12,447.54 L246.12,445.20 L246.54,445.20 L246.54,446.62 L246.96,446.62 L246.96,437.95 L247.38,437.95 L247.38,443.57 L247.80,443.57 L247.80,447.46 L248.22,447.46 L248.22,443.90 L248.64,443.90 L248.64,447.37 L249.06,447.37 L249.06,447.49 L249.48,447.49 L249.48,447.94 L249.90,447.94 L249.90,443.14 L250.32,443.14 L250.32,445.39 L250.74,445.39 L250.74,447.08 L251.16,447.08 L251.16,444.25 L251.58,444.25 L251.58,443.54 L252.00,443.54 L252.00,445.69 L252.42,445.69 L252.42,446.96 L252.84,446.96 L252.84,444.66 L253.26,444.66 L253.26,447.00 L253.68,447.00 L253.68,447.83 L254.10,447.83 L254.10,445.68 L254.52,445.68 L254.52,444.62 L254.94,444.62 L254.94,440.95 L255.36,440.95 L255.36,444.57 L255.78,444.57 L255.78,447.15 L256.20,447.15 L256.20,447.79 L256.62,447.79 L256.62,444.59 L257.04,444.59 L257.04,447.10 L257.46,447.10 L257.46,447.46 L257.88,447.46 L257.88,442.45 L258.30,442.45 L258.30,447.79 L258.72,447.79 L258.72,447.90 L259.14,447.90 L259.14,447.72 L259.56,447.72 L259.56,447.80 L259.98,447.80 L259.98,447.86 L260.40,447.86 L260.40,447.87 L260.82,447.87 L260.82,447.78 L261.24,447.78 L261.24,447.86 L261.66,447.86 L261.66,447.64 L262.08,447.64 L262.08,447.61 L262.50,447.61 L262.50,447.55 L262.92,447.55 L262.92,447.94 L263.34,447.94 L263.34,447.59 L263.76,447.59 L263.76,447.87 L264.18,447.87 L264.18,447.53 L264.60,447.53 L264.60,447.65 L265.02,447.65 L265.02,447.65 L265.44,447.65 L265.44,447.89 L265.86,447.89 L265.86,447.36 L266.28,447.36 L266.28,447.94 L266.70,447.94 L266.70,447.30 L267.12,447.30 L267.12,447.92 L267.54,447.92 L267.54,447.85 L267.96,447.85 L267.96,447.95 L268.38,447.95 L268.38,447.69 L268.80,447.69 L268.80,447.93 L269.22,447.93 L269.22,447.49 L269.64,447.49 L269.64,447.88 L270.06,447.88 L270.06,447.71 L270.48,447.71 L270.48,447.68 L270.90,447.68 L270.90,447.66 L271.32,447.66 L271.32,447.42 L271.74,447.42 L271.74,447.67 L272.16,447.67 L272.16,447.82 L272.58,447.82 L272.58,445.26 L273.00,445.26 L273.00,445.72 L273.42,445.72 L273.42,446.50 L273.84,446.50 L273.84,446.76 L274.26,446.76 L274.26,447.83 L274.68,447.83 L274.68,446.43 L275.10,446.43 L275.10,446.60 L275.52,446.60 L275.52,447.07 L275.94,447.07 L275.94,445.61 L276.36,445.61 L276.36,447.93 L276.78,447.93 L276.78,447.95 L277.20,447.95 L277.20,447.76 L277.62,447.76 L277.62,447.64 L278.04,447.64 L278.04,447.93 L278.46,447.93 L278.46,445.99 L278.88,445.99 L278.88,447.85 L279.30,447.85 L279.30,447.00 L279.72,447.00 L279.72,447.93 L280.14,447.93 L280.14,447.73 L280.56,447.73 L280.56,445.59 L280.98,445.59 L280.98,447.52 L281.40,447.52 L281.40,447.17 L281.82,447.17 L281.82,443.64 L282.24,443.64 L282.24,442.06 L282.66,442.06 L282.66,444.59 L283.08,444.59 L283.08,435.95 L283.50,435.95 L283.50,442.66 L283.92,442.66 L283.92,442.08 L284.34,442.08 L284.34,447.91 L284.76,447.91 L284.76,446.39 L285.18,446.39 L285.18,447.37 L285.60,447.37 L285.60,445.16 L286.02,445.16 L286.02,446.68 L286.44,446.68 L286.44,445.94 L286.86,445.94 L286.86,447.53 L287.28,447.53 L287.28,444.64 L287.70,444.64 L287.70,447.73 L288.12,447.73 L288.12,443.47 L288.54,443.47 L288.54,444.12 L288.96,444.12 L288.96,447.69 L289.38,447.69 L289.38,446.64 L289.80,446.64 L289.80,443.77 L290.22,443.77 L290.22,443.10 L290.64,443.10 L290.64,447.23 L291.06,447.23 L291.06,445.20 L291.48,445.20 L291.48,443.01 L291.90,443.01 L291.90,444.49 L292.32,444.49 L292.32,446.44 L292.74,446.44 L292.74,447.64 L293.16,447.64 L293.16,447.22 L293.58,447.22 L293.58,447.53 L294.00,447.53 L294.00,444.89 L294.42,444.89 L294.42,447.58 L294.84,447.58 L294.84,447.53 L295.26,447.53 L295.26,442.18 L295.68,442.18 L295.68,447.65 L296.10,447.65 L296.10,447.70 L296.52,447.70 L296.52,447.22 L296.94,447.22 L296.94,446.35 L297.36,446.35 L297.36,445.66 L297.78,445.66 L297.78,447.60 L298.20,447.60 L298.20,446.67 L298.62,446.67 L298.62,435.95 L299.04,435.95 L299.04,439.84 L299.46,439.84 L299.46,446.83 L299.88,446.83 L299.88,447.24 L300.30,447.24 L300.30,445.60 L300.72,445.60 L300.72,443.54 L301.14,443.54 L301.14,440.95 L301.56,440.95 L301.56,443.01 L301.98,443.01 L301.98,446.53 L302.40,446.53 L302.40,443.23 L302.82,443.23 L302.82,443.99 L303.24,443.99 L303.24,447.90 L303.66,447.90 L303.66,444.82 L304.08,444.82 L304.08,447.93 L304.50,447.93 L304.50,442.73 L304.92,442.73 L304.92,447.87 L305.34,447.87 L305.34,447.69 L305.76,447.69 L305.76,445.65 L306.18,445.65 L306.18,447.24 L306.60,447.24 L306.60,447.24 L307.02,447.24 L307.02,445.21 L307.44,445.21 L307.44,446.58 L307.86,446.58 L307.86,443.07 L308.28,443.07 L308.28,443.26 L308.70,443.26 L308.70,447.89 L309.12,447.89 L309.12,440.95 L309.54,440.95 L309.54,442.92 L309.96,442.92 L309.96,442.88 L310.38,442.88 L310.38,447.89 L310.80,447.89 L310.80,443.35 L311.22,443.35 L311.22,447.54 L311.64,447.54 L311.64,446.50 L312.06,446.50 L312.06,445.45 L312.48,445.45 L312.48,447.64 L312.90,447.64 L312.90,445.49 L313.32,445.49 L313.32,446.30 L313.74,446.30 L313.74,446.11 L314.16,446.11 L314.16,447.74 L314.58,447.74 L314.58,445.81 L315.00,445.81 L315.00,445.30 L315.42,445.30 L315.42,447.39 L315.84,447.39 L315.84,445.36 L316.26,445.36 L316.26,447.94 L316.68,447.94 L316.68,447.58 L317.10,447.58 L317.10,447.18 L317.52,447.18 L317.52,446.99 L317.94,446.99 L317.94,445.58 L318.36,445.58 L318.36,447.89 L318.78,447.89 L318.78,447.27 L319.20,447.27 L319.20,444.85 L319.62,444.85 L319.62,447.95 L320.04,447.95 L320.04,444.28 L320.46,444.28 L320.46,444.68 L320.88,444.68 L320.88,447.68 L321.30,447.68 L321.30,447.65 L321.72,447.65 L321.72,447.88 L322.14,447.88 L322.14,447.66 L322.56,447.66 L322.56,447.84 L322.98,447.84 L322.98,447.94 L323.40,447.94 L323.40,447.18 L323.82,447.18 L323.82,444.55 L324.24,444.55 L324.24,445.32 L324.66,445.32 L324.66,442.83 L325.08,442.83 L325.08,446.33 L325.50,446.33 L325.50,447.25 L325.92,447.25 L325.92,443.54 L326.34,443.54 L326.34,445.44 L326.76,445.44 L326.76,447.55 L327.18,447.55 L327.18,447.09 L327.60,447.09 L327.60,447.84 L328.02,447.84 L328.02,444.57 L328.44,444.57 L328.44,444.39 L328.86,444.39 L328.86,447.22 L329.28,447.22 L329.28,445.75 L329.70,445.75 L329.70,447.37 L330.12,447.37 L330.12,446.68 L330.54,446.68 L330.54,447.72 L330.96,447.72 L330.96,446.68 L331.38,446.68 L331.38,447.80 L331.80,447.80 L331.80,445.27 L332.22,445.27 L332.22,447.84 L332.64,447.84 L332.64,447.55 L333.06,447.55 L333.06,446.01 L333.48,446.01 L333.48,447.78 L333.90,447.78 L333.90,447.91 L334.32,447.91 L334.32,447.77 L334.74,447.77 L334.74,446.32 L335.16,446.32 L335.16,447.54 L335.58,447.54 L335.58,447.95 L336.00,447.95 L336.00,447.41 L336.42,447.41 L336.42,446.49 L336.84,446.49 L336.84,447.57 L337.26,447.57 L337.26,445.66 L337.68,445.66 L337.68,446.54 L338.10,446.54 L338.10,445.53 L338.52,445.53 L338.52,447.26 L338.94,447.26 L338.94,447.25 L339.36,447.25 L339.36,446.65 L339.78,446.65 L339.78,445.54 L340.20,445.54 L340.20,447.60 L340.62,447.60 L340.62,447.84 L341.04,447.84 L341.04,447.91 L341.46,447.91 L341.46,447.64 L341.88,447.64 L341.88,445.45 L342.30,445.45 L342.30,447.65 L342.72,447.65 L342.72,447.39 L343.14,447.39 L343.14,446.45 L343.56,446.45 L343.56,447.95 L343.98,447.95 L343.98,447.62 L344.40,447.62 L344.40,447.59 L344.82,447.59 L344.82,439.95 L345.24,439.95 L345.24,442.77 L345.66,442.77 L345.66,444.14 L346.08,444.14 L346.08,446.16 L346.50,446.16 L346.50,447.12 L346.92,447.12 L346.92,443.86 L347.34,443.86 L347.34,444.12 L347.76,444.12 L347.76,447.77 L348.18,447.77 L348.18,447.37 L348.60,447.37 L348.60,447.87 L349.02,447.87 L349.02,446.18 L349.44,446.18 L349.44,447.93 L349.86,447.93 L349.86,447.06 L350.28,447.06 L350.28,447.76 L350.70,447.76 L350.70,444.92 L351.12,444.92 L351.12,447.88 L351.54,447.88 L351.54,446.43 L351.96,446.43 L351.96,447.93 L352.38,447.93 L352.38,445.18 L352.80,445.18 L352.80,447.69 L353.22,447.69 L353.22,447.61 L353.64,447.61 L353.64,447.93 L354.06,447.93 L354.06,447.27 L354.48,447.27 L354.48,446.09 L354.90,446.09 L354.90,447.34 L355.32,447.34 L355.32,444.32 L355.74,444.32 L355.74,447.37 L356.16,447.37 L356.16,443.08 L356.58,443.08 L356.58,447.25 L357.00,447.25 L357.00,447.83 L357.42,447.83 L357.42,447.93 L357.84,447.93 L357.84,446.96 L358.26,446.96 L358.26,443.82 L358.68,443.82 L358.68,447.43 L359.10,447.43 L359.10,446.24 L359.52,446.24 L359.52,447.68 L359.94,447.68 L359.94,443.93 L360.36,443.93 L360.36,445.46 L360.78,445.46 L360.78,447.62 L361.20,447.62 L361.20,446.27 L361.62,446.27 L361.62,446.42 L362.04,446.42 L362.04,445.22 L362.46,445.22 L362.46,447.62 L362.88,447.62 L362.88,447.83 L363.30,447.83 L363.30,447.92 L363.72,447.92 L363.72,446.65 L364.14,446.65 L364.14,447.44 L364.56,447.44 L364.56,445.29 L364.98,445.29 L364.98,447.93 L365.40,447.93 L365.40,445.31 L365.82,445.31 L365.82,447.91 L366.24,447.91 L366.24,447.04 L366.66,447.04 L366.66,446.00 L367.08,446.00 L367.08,442.98 L367.50,442.98 L367.50,440.67 L367.92,440.67 L367.92,440.16 L368.34,440.16 L368.34,442.94 L368.76,442.94 L368.76,442.16 L369.18,442.16 L369.18,439.82 L369.60,439.82 L369.60,443.48 L370.02,443.48 L370.02,446.27 L370.44,446.27 L370.44,446.25 L370.86,446.25 L370.86,445.45 L371.28,445.45 L371.28,441.81 L371.70,441.81 L371.70,445.65 L372.12,445.65 L372.12,436.87 L372.54,436.87 L372.54,444.22 L372.96,444.22 L372.96,436.77 L373.38,436.77 L373.38,442.21 L373.80,442.21 L373.80,437.95 L374.22,437.95 L374.22,442.30 L374.64,442.30 L374.64,442.48 L375.06,442.48 L375.06,437.00 L375.48,437.00 L375.48,436.01 L375.90,436.01 L375.90,441.41 L376.32,441.41 L376.32,440.33 L376.74,440.33 L376.74,444.10 L377.16,444.10 L377.16,444.99 L377.58,444.99 L377.58,422.45 L378.00,422.45 L378.00,436.70 L378.42,436.70 L378.42,444.02 L378.84,444.02 L378.84,446.48 L379.26,446.48 L379.26,439.91 L379.68,439.91 L379.68,445.18 L380.10,445.18 L380.10,436.93 L380.52,436.93 L380.52,439.02 L380.94,439.02 L380.94,442.12 L381.36,442.12 L381.36,442.05 L381.78,442.05 L381.78,436.38 L382.20,436.38 L382.20,433.95 L382.62,433.95 L382.62,434.28 L383.04,434.28 L383.04,439.66 L383.46,439.66 L383.46,437.69 L383.88,437.69 L383.88,430.95 L384.30,430.95 L384.30,439.15 L384.72,439.15 L384.72,439.84 L385.14,439.84 L385.14,440.57 L385.56,440.57 L385.56,441.51 L385.98,441.51 L385.98,438.17 L386.40,438.17 L386.40,435.75 L386.82,435.75 L386.82,435.95 L387.24,435.95 L387.24,437.99 L387.66,437.99 L387.66,441.30 L388.08,441.30 L388.08,439.83 L388.50,439.83 L388.50,435.69 L388.92,435.69 L388.92,444.04 L389.34,444.04 L389.34,435.72 L389.76,435.72 L389.76,434.39 L390.18,434.39 L390.18,445.23 L390.60,445.23 L390.60,436.23 L391.02,436.23 L391.02,422.95 L391.44,422.95 L391.44,434.82 L391.86,434.82 L391.86,445.02 L392.28,445.02 L392.28,445.08 L392.70,445.08 L392.70,436.58 L393.12,436.58 L393.12,432.95 L393.54,432.95 L393.54,442.90 L393.96,442.90 L393.96,444.35 L394.38,444.35 L394.38,445.06 L394.80,445.06 L394.80,440.58 L395.22,440.58 L395.22,425.95 L395.64,425.95 L395.64,439.30 L396.06,439.30 L396.06,441.46 L396.48,441.46 L396.48,437.92 L396.90,437.92 L396.90,436.75 L397.32,436.75 L397.32,445.09 L397.74,445.09 L397.74,443.30 L398.16,443.30 L398.16,439.54 L398.58,439.54 L398.58,443.20 L399.00,443.20 L399.00,437.60 L399.42,437.60 L399.42,438.12 L399.84,438.12 L399.84,434.95 L400.26,434.95 L400.26,440.34 L400.68,440.34 L400.68,435.75 L401.10,435.75 L401.10,438.05 L401.52,438.05 L401.52,436.14 L401.94,436.14 L401.94,444.10 L402.36,444.10 L402.36,436.31 L402.78,436.31 L402.78,442.96 L403.20,442.96 L403.20,433.63 L403.62,433.63 L403.62,442.98 L404.04,442.98 L404.04,447.76 L404.46,447.76 L404.46,447.64 L404.88,447.64 L404.88,446.21 L405.30,446.21 L405.30,445.83 L405.72,445.83 L405.72,447.86 L406.14,447.86 L406.14,447.82 L406.56,447.82 L406.56,447.82 L406.98,447.82 L406.98,445.42 L407.40,445.42 L407.40,444.80 L407.82,444.80 L407.82,443.80 L408.24,443.80 L408.24,447.32 L408.66,447.32 L408.66,447.86 L409.08,447.86 L409.08,446.68 L409.50,446.68 L409.50,445.44 L409.92,445.44 L409.92,447.90 L410.34,447.90 L410.34,445.60 L410.76,445.60 L410.76,445.90 L411.18,445.90 L411.18,445.74 L411.60,445.74 L411.60,443.87 L412.02,443.87 L412.02,443.98 L412.44,443.98 L412.44,444.79 L412.86,444.79 L412.86,440.66 L413.28,440.66 L413.28,445.96 L413.70,445.96 L413.70,447.40 L414.12,447.40 L414.12,445.96 L414.54,445.96 L414.54,431.45 L414.96,431.45 L414.96,435.12 L415.38,435.12 L415.38,441.50 L415.80,441.50 L415.80,444.92 L416.22,444.92 L416.22,447.58 L416.64,447.58 L416.64,446.41 L417.06,446.41 L417.06,445.42 L417.48,445.42 L417.48,447.68 L417.90,447.68 L417.90,447.71 L418.32,447.71 L418.32,446.86 L418.74,446.86 L418.74,447.61 L419.16,447.61 L419.16,447.95 L419.58,447.95 L419.58,446.81 L420.00,446.81 L420.00,447.59 L420.42,447.59 L420.42,442.31 L420.84,442.31 L420.84,447.66 L421.26,447.66 L421.26,447.80 L421.68,447.80 L421.68,447.71 L422.10,447.71 L422.10,435.45 L422.52,435.45 L422.52,440.02 L422.94,440.02 L422.94,444.02 L423.36,444.02 L423.36,444.06 L423.78,444.06 L423.78,446.57 L424.20,446.57 L424.20,447.95 Z" stroke="none" stroke-width="1.0" fill="#c8102e" />
<line x1="82.30" y1="496.00" x2="385.80" y2="496.00" stroke="#404040" stroke-width="1.4" />
<rect x="82.30" y="494.60" width="20.60" height="2.90" fill="#c8102e" />
<rect x="102.90" y="493.30" width="5.10" height="5.50" fill="#c8102e" />
<rect x="114.00" y="493.30" width="2.00" height="5.50" fill="#c8102e" />
<rect x="155.40" y="493.30" width="1.90" height="5.50" fill="#c8102e" />
<rect x="161.50" y="493.30" width="3.50" height="5.50" fill="#c8102e" />
<rect x="206.50" y="493.30" width="2.00" height="5.50" fill="#c8102e" />
<rect x="212.20" y="493.30" width="3.60" height="5.50" fill="#c8102e" />
<rect x="324.80" y="493.30" width="2.30" height="5.50" fill="#c8102e" />
<rect x="337.90" y="493.30" width="2.70" height="5.50" fill="#c8102e" />
<rect x="348.80" y="493.30" width="5.40" height="5.50" fill="#c8102e" />
<rect x="369.40" y="493.30" width="3.10" height="5.50" fill="#c8102e" />
<rect x="377.70" y="493.30" width="1.90" height="5.50" fill="#c8102e" />
<rect x="383.80" y="493.30" width="2.00" height="5.50" fill="#c8102e" />
<path d="M386,496 V507.9 H378.5" stroke="#1c1a1b" stroke-width="1.0" fill="none" />
<path d="M376.6,507.9 L379.6,506.1 L379.6,509.7 Z" stroke="none" stroke-width="1.0" fill="#1c1a1b" />
<text x="236.80" y="507.90" font-size="7.59" font-style="italic" textLength="14.00" lengthAdjust="spacingAndGlyphs" stroke="#1c1a1b" stroke-width="0.08">Mpl</text>
<text x="7.40" y="526.40" font-size="11" font-weight="bold" stroke="#1c1a1b" stroke-width="0.1">E</text>
<g transform="translate(0,0.7)"><path d="M159,598.5 C165,594 172,588 178,581.5 C183,576 188,571 194,569.5 C206,566 219,570 228,577 C238,583 250,581 262,580.5 L263,590 C252,591 242,595 238.5,603 C236,610 236.5,618 241,622 C246,625 252,624 262,625 L262,640 C257,638 253,637 251.5,636 C247,640 246,646 244,650 C240,655 236,656 231,655 C215,647 200,636 188,627 C178,620 168,610 159,601.5 Z" stroke="none" stroke-width="1.0" fill="url(#gg)" /><text x="37.50" y="531.50" font-size="8.8" fill="#2a639f" font-style="italic" textLength="41.30" lengthAdjust="spacingAndGlyphs" stroke="#2a639f" stroke-width="0.08">Mpl (0.25×)</text><text x="37.50" y="540.40" font-size="8.8" fill="#2a639f" font-style="italic" textLength="47.00" lengthAdjust="spacingAndGlyphs" stroke="#2a639f" stroke-width="0.08">Stat5a (0.7×)</text><text x="37.50" y="548.80" font-size="8.8" fill="#2a639f" font-style="italic" textLength="62.50" lengthAdjust="spacingAndGlyphs" stroke="#2a639f" stroke-width="0.08">Tek / Tie2 (0.15×)</text><text x="37.50" y="557.10" font-size="8.8" fill="#2a639f" font-style="italic" textLength="44.50" lengthAdjust="spacingAndGlyphs" stroke="#2a639f" stroke-width="0.08">Gata2 (0.4×)</text><text x="37.50" y="565.40" font-size="8.8" fill="#2a639f" font-style="italic" textLength="41.00" lengthAdjust="spacingAndGlyphs" stroke="#2a639f" stroke-width="0.08">Pbx1 (0.4×)</text><text x="37.50" y="573.80" font-size="8.8" fill="#2a639f" font-style="italic" textLength="42.50" lengthAdjust="spacingAndGlyphs" stroke="#2a639f" stroke-width="0.08">Gfi1b (0.3×)</text><text x="37.50" y="582.10" font-size="8.8" fill="#2a639f" font-style="italic" textLength="39.50" lengthAdjust="spacingAndGlyphs" stroke="#2a639f" stroke-width="0.08">Egr1 (0.3×)</text><text x="37.50" y="590.40" font-size="8.8" fill="#2a639f" font-style="italic" textLength="55.20" lengthAdjust="spacingAndGlyphs" stroke="#2a639f" stroke-width="0.08">Tal1 / Scl (0.7×)</text><text x="37.30" y="599.40" font-size="8.8" textLength="53.90" lengthAdjust="spacingAndGlyphs" stroke="#1c1a1b" stroke-width="0.08">cell cycle arrest</text><text x="37.30" y="607.70" font-size="8.8" textLength="45.60" lengthAdjust="spacingAndGlyphs" stroke="#1c1a1b" stroke-width="0.08">cell adhesion</text><text x="37.30" y="616.20" font-size="8.8" textLength="25.70" lengthAdjust="spacingAndGlyphs" stroke="#1c1a1b" stroke-width="0.08">survival</text><circle cx="103.70" cy="598.80" r="9.25" fill="#827bca" /><circle cx="103.70" cy="598.80" r="6.60" fill="url(#g1)" /><circle cx="149.70" cy="598.80" r="9.25" fill="#827bca" /><circle cx="149.70" cy="598.80" r="6.60" fill="url(#g1)" /><text x="102.90" y="617.40" font-size="8.8" fill="#262626" text-anchor="middle" textLength="35.00" lengthAdjust="spacingAndGlyphs" stroke="#262626" stroke-width="0.08">Quiescent</text><text x="102.75" y="626.20" font-size="9.46" fill="#262626" text-anchor="middle" textLength="15.60" lengthAdjust="spacingAndGlyphs" stroke="#262626" stroke-width="0.08">HSC</text><text x="148.60" y="618.50" font-size="8.8" fill="#262626" text-anchor="middle" textLength="25.70" lengthAdjust="spacingAndGlyphs" stroke="#262626" stroke-width="0.08">Cycling</text><text x="149.30" y="626.20" font-size="9.46" fill="#262626" text-anchor="middle" textLength="15.60" lengthAdjust="spacingAndGlyphs" stroke="#262626" stroke-width="0.08">HSC</text><line x1="117.50" y1="598.80" x2="134.60" y2="598.80" stroke="#333" stroke-width="1.6" /><path d="M114.4,598.8 L119.9,595.9 L118.7,598.8 L119.9,601.7 Z" stroke="none" stroke-width="1.0" fill="#333" /><path d="M137.8,598.8 L132.3,595.9 L133.5,598.8 L132.3,601.7 Z" stroke="none" stroke-width="1.0" fill="#333" /><path d="M160.2,598.3 C165.5,597 166,591 161.5,589.3" stroke="#333" stroke-width="1.6" fill="none" /><path d="M158.8,588.2 L163.2,586.4 L162.3,591.4 Z" stroke="none" stroke-width="1.0" fill="#262626" /><text x="122.00" y="551.20" font-size="8.8" fill="#2a639f" font-style="italic" textLength="45.00" lengthAdjust="spacingAndGlyphs" stroke="#2a639f" stroke-width="0.08">Hoxa9 (0.4×)</text><text x="122.00" y="559.60" font-size="8.8" fill="#2a639f" font-style="italic" textLength="43.40" lengthAdjust="spacingAndGlyphs" stroke="#2a639f" stroke-width="0.08">Meis1 (0.6×)</text><text x="122.00" y="568.10" font-size="8.8" fill="#2a639f" font-style="italic" textLength="34.50" lengthAdjust="spacingAndGlyphs" stroke="#2a639f" stroke-width="0.08">Erg (0.7×)</text><text x="122.00" y="576.50" font-size="8.8" fill="#2a639f" font-style="italic" textLength="39.50" lengthAdjust="spacingAndGlyphs" stroke="#2a639f" stroke-width="0.08">Msi2 (0.6×)</text><text x="122.00" y="585.00" font-size="8.8" textLength="42.20" lengthAdjust="spacingAndGlyphs" stroke="#1c1a1b" stroke-width="0.08">self-renewal</text><circle cx="202.30" cy="578.30" r="9.20" fill="#d4d0ec" /><circle cx="202.30" cy="578.30" r="6.60" fill="url(#g1)" /><circle cx="182.90" cy="595.60" r="9.00" fill="#827bca" /><circle cx="182.90" cy="595.60" r="6.40" fill="url(#g1)" /><circle cx="204.80" cy="598.70" r="9.00" fill="#827bca" /><circle cx="204.80" cy="598.70" r="6.40" fill="url(#g1)" /><circle cx="192.50" cy="616.00" r="9.00" fill="#827bca" /><circle cx="192.50" cy="616.00" r="6.40" fill="url(#g1)" /><circle cx="212.40" cy="619.80" r="9.00" fill="#827bca" /><circle cx="212.40" cy="619.80" r="6.40" fill="url(#g1)" /><text x="180.00" y="539.50" font-size="8.8" fill="#2a639f" font-style="italic" textLength="38.70" lengthAdjust="spacingAndGlyphs" stroke="#2a639f" stroke-width="0.08">Msi2 (0.6×)</text><text x="180.00" y="548.00" font-size="8.8" fill="#cc2446" font-style="italic" textLength="37.00" lengthAdjust="spacingAndGlyphs" stroke="#cc2446" stroke-width="0.08">Spi1 / Pu.1</text><text x="180.00" y="556.30" font-size="8.8" fill="#cc2446" font-style="italic" textLength="21.00" lengthAdjust="spacingAndGlyphs" stroke="#cc2446" stroke-width="0.08">(1.3×)</text><text x="180.00" y="565.00" font-size="8.8" textLength="35.00" lengthAdjust="spacingAndGlyphs" stroke="#1c1a1b" stroke-width="0.08">expansion</text><text x="180.10" y="635.60" font-size="8.8" fill="#262626" text-anchor="middle" textLength="26.30" lengthAdjust="spacingAndGlyphs" stroke="#262626" stroke-width="0.08">ST-HSC</text><text x="180.30" y="643.70" font-size="8.8" fill="#262626" text-anchor="middle" textLength="15.50" lengthAdjust="spacingAndGlyphs" stroke="#262626" stroke-width="0.08">MPP</text><circle cx="265.60" cy="584.70" r="9.30" fill="#c2d8e6" /><circle cx="265.60" cy="584.70" r="6.80" fill="url(#g2)" /><text x="265.40" y="587.10" font-size="7.26" fill="#f6f0fa" text-anchor="middle" textLength="12.60" lengthAdjust="spacingAndGlyphs" opacity="0.95" stroke="#f6f0fa" stroke-width="0.05">CLP</text><circle cx="232.00" cy="640.00" r="9.30" fill="#e2647a" /><circle cx="232.00" cy="640.00" r="6.80" fill="url(#g2)" /><text x="231.80" y="642.40" font-size="7.26" fill="#f6f0fa" text-anchor="middle" textLength="15.00" lengthAdjust="spacingAndGlyphs" opacity="0.95" stroke="#f6f0fa" stroke-width="0.05">CMP</text><circle cx="267.10" cy="632.30" r="9.30" fill="#e2647a" /><circle cx="267.10" cy="632.30" r="6.80" fill="url(#g2)" /><text x="266.90" y="634.70" font-size="7.26" fill="#f6f0fa" text-anchor="middle" textLength="15.80" lengthAdjust="spacingAndGlyphs" opacity="0.95" stroke="#f6f0fa" stroke-width="0.05">GMP</text><circle cx="265.50" cy="657.70" r="9.30" fill="#c0102a" /><circle cx="265.50" cy="657.70" r="6.80" fill="url(#g2)" /><text x="265.30" y="660.10" font-size="7.26" fill="#f6f0fa" text-anchor="middle" textLength="14.60" lengthAdjust="spacingAndGlyphs" opacity="0.95" stroke="#f6f0fa" stroke-width="0.05">MEP</text><text x="230.00" y="555.50" font-size="8.8" fill="#2a639f" font-style="italic" textLength="39.50" lengthAdjust="spacingAndGlyphs" stroke="#2a639f" stroke-width="0.08">Runx1 0.7×</text><text x="229.60" y="565.20" font-size="8.8" fill="#cc2446" font-style="italic" textLength="61.30" lengthAdjust="spacingAndGlyphs" stroke="#cc2446" stroke-width="0.08">Spi1 / Pu.1 (1.3×)</text><text x="230.00" y="573.80" font-size="8.8" fill="#cc2446" font-style="italic" textLength="47.50" lengthAdjust="spacingAndGlyphs" stroke="#cc2446" stroke-width="0.08">Cebpb (1.4×)</text><text x="240.30" y="604.20" font-size="8.8" fill="#cc2446" font-style="italic" textLength="61.20" lengthAdjust="spacingAndGlyphs" stroke="#cc2446" stroke-width="0.08">Spi1 / Pu.1 (1.3×)</text><text x="240.30" y="612.80" font-size="8.8" fill="#cc2446" font-style="italic" textLength="46.40" lengthAdjust="spacingAndGlyphs" stroke="#cc2446" stroke-width="0.08">Cebpa (1.2×)</text><text x="240.30" y="621.10" font-size="8.8" fill="#cc2446" font-style="italic" textLength="46.60" lengthAdjust="spacingAndGlyphs" stroke="#cc2446" stroke-width="0.08">Cebpb (1.4×)</text><text x="178.00" y="657.50" font-size="8.8" fill="#2a639f" font-style="italic" textLength="44.00" lengthAdjust="spacingAndGlyphs" stroke="#2a639f" stroke-width="0.08">Gata1 (0.4×)</text><text x="178.00" y="666.20" font-size="8.8" fill="#cc2446" font-style="italic" textLength="60.70" lengthAdjust="spacingAndGlyphs" stroke="#cc2446" stroke-width="0.08">Spi1 / Pu.1 (1.3×)</text><text x="178.00" y="674.50" font-size="8.8" fill="#cc2446" font-style="italic" textLength="45.70" lengthAdjust="spacingAndGlyphs" stroke="#cc2446" stroke-width="0.08">Cebpa (1.2×)</text><text x="178.00" y="682.50" font-size="8.8" fill="#cc2446" font-style="italic" textLength="47.00" lengthAdjust="spacingAndGlyphs" stroke="#cc2446" stroke-width="0.08">Cebpb (1.4×)</text><text x="238.80" y="675.00" font-size="8.8" fill="#2a639f" font-style="italic" textLength="43.70" lengthAdjust="spacingAndGlyphs" stroke="#2a639f" stroke-width="0.08">Gata1 (0.4×)</text><text x="238.80" y="684.50" font-size="8.8" fill="#2a639f" font-style="italic" textLength="41.70" lengthAdjust="spacingAndGlyphs" stroke="#2a639f" stroke-width="0.08">Gfi1b (0.3×)</text><text x="238.80" y="693.00" font-size="8.8" fill="#2a639f" font-style="italic" textLength="40.00" lengthAdjust="spacingAndGlyphs" stroke="#2a639f" stroke-width="0.08">Runx1 0.7×</text><line x1="281.80" y1="584.00" x2="289.50" y2="584.00" stroke="#8a8a8a" stroke-width="1.9" /><path d="M293.2,584.0 L288.2,581.4 L288.2,586.6 Z" stroke="none" stroke-width="1.0" fill="#8a8a8a" /><line x1="281.80" y1="632.50" x2="289.50" y2="632.50" stroke="#8a8a8a" stroke-width="1.9" /><path d="M293.2,632.5 L288.2,629.9 L288.2,635.1 Z" stroke="none" stroke-width="1.0" fill="#8a8a8a" /><line x1="281.80" y1="659.00" x2="289.50" y2="659.00" stroke="#8a8a8a" stroke-width="1.9" /><path d="M293.2,659.0 L288.2,656.4 L288.2,661.6 Z" stroke="none" stroke-width="1.0" fill="#8a8a8a" /><text x="296.60" y="581.00" font-size="8.8" fill="#262626" textLength="34.20" lengthAdjust="spacingAndGlyphs" stroke="#262626" stroke-width="0.08">Lymphoid</text><text x="296.60" y="589.20" font-size="8.8" fill="#262626" textLength="27.50" lengthAdjust="spacingAndGlyphs" stroke="#262626" stroke-width="0.08">Lineage</text><text x="296.60" y="624.60" font-size="8.8" fill="#262626" textLength="42.60" lengthAdjust="spacingAndGlyphs" stroke="#262626" stroke-width="0.08">Granulocyte</text><text x="296.60" y="633.00" font-size="8.8" fill="#262626" textLength="44.20" lengthAdjust="spacingAndGlyphs" stroke="#262626" stroke-width="0.08">Macrophage</text><text x="296.60" y="641.20" font-size="8.8" fill="#262626" textLength="27.50" lengthAdjust="spacingAndGlyphs" stroke="#262626" stroke-width="0.08">Lineage</text><text x="296.60" y="655.40" font-size="8.8" fill="#262626" textLength="32.50" lengthAdjust="spacingAndGlyphs" stroke="#262626" stroke-width="0.08">Erythroid</text><text x="296.60" y="663.80" font-size="8.8" fill="#262626" textLength="44.90" lengthAdjust="spacingAndGlyphs" stroke="#262626" stroke-width="0.08">Megakaryoc.</text><text x="296.60" y="672.20" font-size="8.8" fill="#262626" textLength="27.50" lengthAdjust="spacingAndGlyphs" stroke="#262626" stroke-width="0.08">Lineage</text></g>
<rect x="0.6" y="0.6" width="518.8" height="698.8" fill="none" stroke="#000" stroke-width="1.3"/>
</svg>
</body></html>
